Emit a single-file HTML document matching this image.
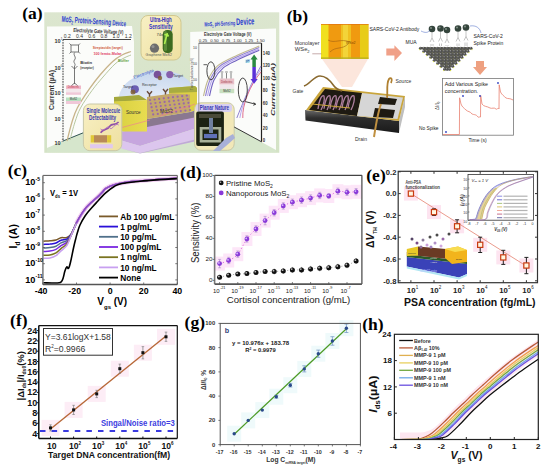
<!DOCTYPE html>
<html><head><meta charset="utf-8"><style>
html,body{margin:0;padding:0;background:#fff;width:550px;height:470px;overflow:hidden;}
svg{display:block;}
</style></head><body>
<svg width="550" height="470" viewBox="0 0 550 470"><rect x="0.0" y="0.0" width="550.0" height="470.0" fill="#ffffff" stroke="none" stroke-width="1" />
<text x="22.3" y="18.5" font-family="Liberation Serif" font-size="17.5" font-weight="bold" fill="#000" text-anchor="start" >(a)</text>
<text x="286.7" y="21.8" font-family="Liberation Serif" font-size="17.5" font-weight="bold" fill="#000" text-anchor="start" >(b)</text>
<text x="7.7" y="175.9" font-family="Liberation Serif" font-size="17.5" font-weight="bold" fill="#000" text-anchor="start" >(c)</text>
<text x="180.1" y="178.0" font-family="Liberation Serif" font-size="17.5" font-weight="bold" fill="#000" text-anchor="start" >(d)</text>
<text x="366.3" y="180.9" font-family="Liberation Serif" font-size="17.5" font-weight="bold" fill="#000" text-anchor="start" >(e)</text>
<text x="10.1" y="325.8" font-family="Liberation Serif" font-size="17.5" font-weight="bold" fill="#000" text-anchor="start" >(f)</text>
<text x="184.6" y="327.8" font-family="Liberation Serif" font-size="17.5" font-weight="bold" fill="#000" text-anchor="start" >(g)</text>
<text x="362.3" y="330.0" font-family="Liberation Serif" font-size="17.5" font-weight="bold" fill="#000" text-anchor="start" >(h)</text>
<path d="M43.3,241.2 C44.4,241.1 47.9,241.0 50.0,240.8 C52.1,240.6 54.2,240.5 56.0,240.0 C57.8,239.5 59.2,238.1 61.0,237.7 C62.8,237.3 65.1,238.1 66.8,237.5 C68.5,236.9 69.5,236.6 71.1,234.2 C72.7,231.8 74.5,226.6 76.2,223.3 C77.9,220.0 79.6,217.1 81.3,214.4 C83.0,211.7 84.7,209.3 86.4,207.3 C88.1,205.3 89.8,203.8 91.5,202.2 C93.2,200.6 94.8,199.6 96.7,197.8 C98.6,196.0 101.5,193.0 103.0,191.4 C104.5,189.8 104.1,189.4 106.0,188.3 C107.9,187.2 110.7,185.7 114.6,184.6 C118.5,183.5 125.3,182.4 129.5,181.8 C133.7,181.2 134.9,181.3 140.0,180.9 C145.1,180.5 153.8,179.8 160.0,179.3 C166.2,178.9 174.2,178.4 177.0,178.2" stroke="#7a5a2a" fill="none" stroke-width="1.5" />
<path d="M43.3,244.5 C44.4,244.4 47.9,244.3 50.0,244.1 C52.1,243.8 54.2,243.7 56.0,243.0 C57.8,242.3 59.2,240.8 61.0,240.2 C62.8,239.5 65.1,240.0 66.8,239.1 C68.5,238.2 69.5,237.1 71.1,234.5 C72.7,231.9 74.5,226.7 76.2,223.4 C77.9,220.1 79.6,217.2 81.3,214.6 C83.0,211.9 84.7,209.5 86.4,207.4 C88.1,205.4 89.8,203.8 91.5,202.2 C93.2,200.6 94.8,199.6 96.7,197.8 C98.6,196.0 101.5,193.0 103.0,191.4 C104.5,189.8 104.1,189.4 106.0,188.3 C107.9,187.2 110.7,185.7 114.6,184.6 C118.5,183.5 125.3,182.4 129.5,181.8 C133.7,181.2 134.9,181.3 140.0,180.9 C145.1,180.5 153.8,179.8 160.0,179.3 C166.2,178.9 174.2,178.4 177.0,178.2" stroke="#2a10d8" fill="none" stroke-width="1.5" />
<path d="M43.3,248.0 C44.4,247.9 47.9,247.9 50.0,247.6 C52.1,247.3 54.2,247.0 56.0,246.2 C57.8,245.4 59.2,243.8 61.0,242.9 C62.8,242.0 65.1,242.0 66.8,240.7 C68.5,239.3 69.5,237.7 71.1,234.8 C72.7,231.9 74.5,226.8 76.2,223.5 C77.9,220.2 79.6,217.4 81.3,214.7 C83.0,212.1 84.7,209.6 86.4,207.5 C88.1,205.5 89.8,203.8 91.5,202.2 C93.2,200.6 94.8,199.6 96.7,197.8 C98.6,196.0 101.5,193.0 103.0,191.4 C104.5,189.8 104.1,189.4 106.0,188.3 C107.9,187.2 110.7,185.7 114.6,184.6 C118.5,183.5 125.3,182.4 129.5,181.8 C133.7,181.2 134.9,181.3 140.0,180.9 C145.1,180.5 153.8,179.8 160.0,179.3 C166.2,178.9 174.2,178.4 177.0,178.2" stroke="#50708a" fill="none" stroke-width="1.5" />
<path d="M43.3,251.5 C44.4,251.4 47.9,251.4 50.0,251.1 C52.1,250.8 54.2,250.3 56.0,249.4 C57.8,248.5 59.2,246.8 61.0,245.6 C62.8,244.4 65.1,244.1 66.8,242.3 C68.5,240.6 69.5,238.2 71.1,235.1 C72.7,232.0 74.5,227.0 76.2,223.6 C77.9,220.2 79.6,217.5 81.3,214.9 C83.0,212.2 84.7,209.8 86.4,207.7 C88.1,205.5 89.8,203.8 91.5,202.2 C93.2,200.6 94.8,199.6 96.7,197.8 C98.6,196.0 101.5,193.0 103.0,191.4 C104.5,189.8 104.1,189.4 106.0,188.3 C107.9,187.2 110.7,185.7 114.6,184.6 C118.5,183.5 125.3,182.4 129.5,181.8 C133.7,181.2 134.9,181.3 140.0,180.9 C145.1,180.5 153.8,179.8 160.0,179.3 C166.2,178.9 174.2,178.4 177.0,178.2" stroke="#7a28e0" fill="none" stroke-width="1.5" />
<path d="M43.3,255.3 C44.4,255.2 47.9,255.3 50.0,254.9 C52.1,254.5 54.2,254.0 56.0,252.9 C57.8,251.9 59.2,250.1 61.0,248.6 C62.8,247.1 65.1,246.1 66.8,243.9 C68.5,241.7 69.5,238.8 71.1,235.4 C72.7,232.0 74.5,227.1 76.2,223.7 C77.9,220.3 79.6,217.7 81.3,215.0 C83.0,212.4 84.7,209.9 86.4,207.8 C88.1,205.6 89.8,203.9 91.5,202.2 C93.2,200.5 94.8,199.6 96.7,197.8 C98.6,196.0 101.5,193.0 103.0,191.4 C104.5,189.8 104.1,189.4 106.0,188.3 C107.9,187.2 110.7,185.7 114.6,184.6 C118.5,183.5 125.3,182.4 129.5,181.8 C133.7,181.2 134.9,181.3 140.0,180.9 C145.1,180.5 153.8,179.8 160.0,179.3 C166.2,178.9 174.2,178.4 177.0,178.2" stroke="#7a7420" fill="none" stroke-width="1.5" />
<path d="M43.3,258.4 C44.4,258.3 47.9,258.4 50.0,258.0 C52.1,257.6 54.2,256.9 56.0,255.7 C57.8,254.5 59.2,252.6 61.0,250.9 C62.8,249.2 65.1,248.0 66.8,245.5 C68.5,243.0 69.5,239.3 71.1,235.7 C72.7,232.1 74.5,227.2 76.2,223.8 C77.9,220.4 79.6,217.9 81.3,215.2 C83.0,212.6 84.7,210.1 86.4,207.9 C88.1,205.7 89.8,203.9 91.5,202.2 C93.2,200.5 94.8,199.6 96.7,197.8 C98.6,196.0 101.5,193.0 103.0,191.4 C104.5,189.8 104.1,189.4 106.0,188.3 C107.9,187.2 110.7,185.7 114.6,184.6 C118.5,183.5 125.3,182.4 129.5,181.8 C133.7,181.2 134.9,181.3 140.0,180.9 C145.1,180.5 153.8,179.8 160.0,179.3 C166.2,178.9 174.2,178.4 177.0,178.2" stroke="#c8a0f0" fill="none" stroke-width="1.5" />
<path d="M76.2,223.3 C77.0,221.8 79.6,217.1 81.3,214.4 C83.0,211.7 84.7,209.3 86.4,207.3 C88.1,205.3 89.8,203.8 91.5,202.2 C93.2,200.6 94.8,199.6 96.7,197.8 C98.6,196.0 101.5,193.0 103.0,191.4 C104.5,189.8 104.1,189.4 106.0,188.3 C107.9,187.2 110.7,185.7 114.6,184.6 C118.5,183.5 125.3,182.4 129.5,181.8 C133.7,181.2 134.9,181.3 140.0,180.9 C145.1,180.5 153.8,179.8 160.0,179.3 C166.2,178.9 174.2,178.4 177.0,178.2" stroke="#e8a0e8" fill="none" stroke-width="4.2" opacity="0.5"/>
<path d="M76.2,223.3 C77.0,221.8 79.6,217.1 81.3,214.4 C83.0,211.7 84.7,209.3 86.4,207.3 C88.1,205.3 89.8,203.8 91.5,202.2 C93.2,200.6 94.8,199.6 96.7,197.8 C98.6,196.0 101.5,193.0 103.0,191.4 C104.5,189.8 104.1,189.4 106.0,188.3 C107.9,187.2 110.7,185.7 114.6,184.6 C118.5,183.5 125.3,182.4 129.5,181.8 C133.7,181.2 134.9,181.3 140.0,180.9 C145.1,180.5 153.8,179.8 160.0,179.3 C166.2,178.9 174.2,178.4 177.0,178.2" stroke="#8848c8" fill="none" stroke-width="1.5" />
<path d="M43.3,282.8 C44.8,282.8 49.4,283.0 52.0,283.0 C54.6,283.0 57.6,283.1 59.2,282.8 C60.8,282.6 60.9,282.2 61.5,281.5 C62.1,280.8 62.4,280.2 63.0,278.5 C63.6,276.8 64.3,272.9 64.9,271.0 C65.5,269.1 66.2,267.4 66.8,267.0 C67.4,266.6 67.8,268.7 68.3,268.5 C68.8,268.3 69.1,267.2 69.5,266.0 C69.9,264.8 70.0,264.3 70.7,261.3 C71.4,258.3 72.7,251.6 73.5,248.0 C74.3,244.4 74.7,242.6 75.4,240.0 C76.1,237.4 76.7,234.8 77.5,232.3 C78.3,229.8 78.7,227.8 80.0,225.0 C81.3,222.2 83.3,218.5 85.2,215.7 C87.1,212.9 89.4,210.4 91.5,208.0 C93.6,205.6 95.5,203.6 97.9,201.0 C100.3,198.4 103.2,195.2 106.0,192.7 C108.8,190.2 111.9,187.7 114.6,186.2 C117.3,184.7 117.8,184.3 122.0,183.5 C126.2,182.7 133.7,182.0 140.0,181.3 C146.3,180.7 153.8,180.1 160.0,179.6 C166.2,179.1 174.2,178.8 177.0,178.6" stroke="#000" fill="none" stroke-width="1.6" />
<line x1="42.9" y1="175.4" x2="177.3" y2="175.4" stroke="#555" stroke-width="1" />
<line x1="177.3" y1="175.4" x2="177.3" y2="284.5" stroke="#555" stroke-width="1" />
<line x1="42.9" y1="175.4" x2="42.9" y2="284.5" stroke="#777" stroke-width="1.5" />
<line x1="42.9" y1="284.5" x2="177.3" y2="284.5" stroke="#555" stroke-width="1.3" />
<line x1="42.9" y1="279.9" x2="44.9" y2="279.9" stroke="#555" stroke-width="0.8" />
<line x1="177.3" y1="279.9" x2="175.3" y2="279.9" stroke="#555" stroke-width="0.8" />
<text x="35.4" y="282.5" font-family="Liberation Sans" font-size="9.2" font-weight="bold" fill="#000" text-anchor="end" >10</text>
<text x="35.6" y="278.1" font-family="Liberation Sans" font-size="5" font-weight="bold" fill="#000" text-anchor="start" >-11</text>
<line x1="42.9" y1="263.7" x2="44.9" y2="263.7" stroke="#555" stroke-width="0.8" />
<line x1="177.3" y1="263.7" x2="175.3" y2="263.7" stroke="#555" stroke-width="0.8" />
<text x="35.4" y="266.3" font-family="Liberation Sans" font-size="9.2" font-weight="bold" fill="#000" text-anchor="end" >10</text>
<text x="35.6" y="261.9" font-family="Liberation Sans" font-size="5" font-weight="bold" fill="#000" text-anchor="start" >-10</text>
<line x1="42.9" y1="247.5" x2="44.9" y2="247.5" stroke="#555" stroke-width="0.8" />
<line x1="177.3" y1="247.5" x2="175.3" y2="247.5" stroke="#555" stroke-width="0.8" />
<text x="35.4" y="250.1" font-family="Liberation Sans" font-size="9.2" font-weight="bold" fill="#000" text-anchor="end" >10</text>
<text x="35.6" y="245.7" font-family="Liberation Sans" font-size="5" font-weight="bold" fill="#000" text-anchor="start" >-9</text>
<line x1="42.9" y1="231.3" x2="44.9" y2="231.3" stroke="#555" stroke-width="0.8" />
<line x1="177.3" y1="231.3" x2="175.3" y2="231.3" stroke="#555" stroke-width="0.8" />
<text x="35.4" y="233.9" font-family="Liberation Sans" font-size="9.2" font-weight="bold" fill="#000" text-anchor="end" >10</text>
<text x="35.6" y="229.5" font-family="Liberation Sans" font-size="5" font-weight="bold" fill="#000" text-anchor="start" >-8</text>
<line x1="42.9" y1="215.1" x2="44.9" y2="215.1" stroke="#555" stroke-width="0.8" />
<line x1="177.3" y1="215.1" x2="175.3" y2="215.1" stroke="#555" stroke-width="0.8" />
<text x="35.4" y="217.7" font-family="Liberation Sans" font-size="9.2" font-weight="bold" fill="#000" text-anchor="end" >10</text>
<text x="35.6" y="213.3" font-family="Liberation Sans" font-size="5" font-weight="bold" fill="#000" text-anchor="start" >-7</text>
<line x1="42.9" y1="198.9" x2="44.9" y2="198.9" stroke="#555" stroke-width="0.8" />
<line x1="177.3" y1="198.9" x2="175.3" y2="198.9" stroke="#555" stroke-width="0.8" />
<text x="35.4" y="201.5" font-family="Liberation Sans" font-size="9.2" font-weight="bold" fill="#000" text-anchor="end" >10</text>
<text x="35.6" y="197.1" font-family="Liberation Sans" font-size="5" font-weight="bold" fill="#000" text-anchor="start" >-6</text>
<line x1="42.9" y1="182.7" x2="44.9" y2="182.7" stroke="#555" stroke-width="0.8" />
<line x1="177.3" y1="182.7" x2="175.3" y2="182.7" stroke="#555" stroke-width="0.8" />
<text x="35.4" y="185.3" font-family="Liberation Sans" font-size="9.2" font-weight="bold" fill="#000" text-anchor="end" >10</text>
<text x="35.6" y="180.9" font-family="Liberation Sans" font-size="5" font-weight="bold" fill="#000" text-anchor="start" >-5</text>
<line x1="42.9" y1="284.5" x2="42.9" y2="282.5" stroke="#555" stroke-width="0.8" />
<text x="41.1" y="294.2" font-family="Liberation Sans" font-size="8.8" font-weight="bold" fill="#000" text-anchor="middle" >-40</text>
<line x1="76.5" y1="284.5" x2="76.5" y2="282.5" stroke="#555" stroke-width="0.8" />
<text x="74.7" y="294.2" font-family="Liberation Sans" font-size="8.8" font-weight="bold" fill="#000" text-anchor="middle" >-20</text>
<line x1="110.1" y1="284.5" x2="110.1" y2="282.5" stroke="#555" stroke-width="0.8" />
<text x="110.1" y="294.2" font-family="Liberation Sans" font-size="8.8" font-weight="bold" fill="#000" text-anchor="middle" >0</text>
<line x1="143.7" y1="284.5" x2="143.7" y2="282.5" stroke="#555" stroke-width="0.8" />
<text x="143.7" y="294.2" font-family="Liberation Sans" font-size="8.8" font-weight="bold" fill="#000" text-anchor="middle" >20</text>
<line x1="177.3" y1="284.5" x2="177.3" y2="282.5" stroke="#555" stroke-width="0.8" />
<text x="177.3" y="294.2" font-family="Liberation Sans" font-size="8.8" font-weight="bold" fill="#000" text-anchor="middle" >40</text>
<text x="50.0" y="196.0" font-family="Liberation Sans" font-size="9" font-weight="bold" fill="#000" text-anchor="start"  textLength="28" lengthAdjust="spacingAndGlyphs">V<tspan font-size="5" dy="2">ds</tspan><tspan dy="-2"> = 1V</tspan></text>
<g transform="translate(16.8,248.5) rotate(-90)"><text x="0" y="0" font-family="Liberation Sans" font-size="10.5" font-weight="bold">I<tspan font-size="6.5" dy="3">d</tspan><tspan dy="-3"> (A)</tspan></text></g>
<text x="97.3" y="304.5" font-family="Liberation Sans" font-size="10" font-weight="bold" fill="#000" text-anchor="start" >V<tspan font-size="6" dy="4">gs</tspan><tspan dy="-4"> (V)</tspan></text>
<line x1="99.0" y1="216.4" x2="118.0" y2="216.4" stroke="#7a5a2a" stroke-width="1.8" />
<text x="120.2" y="219.5" font-family="Liberation Sans" font-size="8.3" font-weight="bold" fill="#000" text-anchor="start" >Ab 100 µg/mL</text>
<line x1="99.0" y1="226.6" x2="118.0" y2="226.6" stroke="#2a10d8" stroke-width="1.8" />
<text x="120.2" y="229.7" font-family="Liberation Sans" font-size="8.3" font-weight="bold" fill="#000" text-anchor="start" >1 pg/mL</text>
<line x1="99.0" y1="236.8" x2="118.0" y2="236.8" stroke="#50708a" stroke-width="1.8" />
<text x="120.2" y="239.9" font-family="Liberation Sans" font-size="8.3" font-weight="bold" fill="#000" text-anchor="start" >10 pg/mL</text>
<line x1="99.0" y1="247.0" x2="118.0" y2="247.0" stroke="#7a28e0" stroke-width="1.8" />
<text x="120.2" y="250.1" font-family="Liberation Sans" font-size="8.3" font-weight="bold" fill="#000" text-anchor="start" >100 pg/mL</text>
<line x1="99.0" y1="257.2" x2="118.0" y2="257.2" stroke="#7a7420" stroke-width="1.8" />
<text x="120.2" y="260.3" font-family="Liberation Sans" font-size="8.3" font-weight="bold" fill="#000" text-anchor="start" >1 ng/mL</text>
<line x1="99.0" y1="267.4" x2="118.0" y2="267.4" stroke="#c8a0f0" stroke-width="1.8" />
<text x="120.2" y="270.5" font-family="Liberation Sans" font-size="8.3" font-weight="bold" fill="#000" text-anchor="start" >10 ng/mL</text>
<line x1="99.0" y1="277.6" x2="118.0" y2="277.6" stroke="#000" stroke-width="1.8" />
<text x="120.2" y="280.7" font-family="Liberation Sans" font-size="8.3" font-weight="bold" fill="#000" text-anchor="start" >None</text>
<rect x="214.1" y="256.6" width="11.0" height="14.0" fill="#fde6f8" stroke="none" stroke-width="1" />
<rect x="223.2" y="253.5" width="11.0" height="14.0" fill="#fde6f8" stroke="none" stroke-width="1" />
<rect x="232.3" y="247.2" width="11.0" height="14.0" fill="#fde6f8" stroke="none" stroke-width="1" />
<rect x="241.4" y="232.0" width="11.0" height="14.0" fill="#fde6f8" stroke="none" stroke-width="1" />
<rect x="250.5" y="222.0" width="11.0" height="14.0" fill="#fde6f8" stroke="none" stroke-width="1" />
<rect x="259.6" y="213.6" width="11.0" height="14.0" fill="#fde6f8" stroke="none" stroke-width="1" />
<rect x="268.7" y="205.7" width="11.0" height="14.0" fill="#fde6f8" stroke="none" stroke-width="1" />
<rect x="277.8" y="198.9" width="11.0" height="14.0" fill="#fde6f8" stroke="none" stroke-width="1" />
<rect x="286.9" y="195.2" width="11.0" height="14.0" fill="#fde6f8" stroke="none" stroke-width="1" />
<rect x="296.0" y="193.2" width="11.0" height="14.0" fill="#fde6f8" stroke="none" stroke-width="1" />
<rect x="305.1" y="191.1" width="11.0" height="14.0" fill="#fde6f8" stroke="none" stroke-width="1" />
<rect x="314.2" y="188.4" width="11.0" height="14.0" fill="#fde6f8" stroke="none" stroke-width="1" />
<rect x="323.3" y="189.0" width="11.0" height="14.0" fill="#fde6f8" stroke="none" stroke-width="1" />
<rect x="332.4" y="184.2" width="11.0" height="14.0" fill="#fde6f8" stroke="none" stroke-width="1" />
<rect x="341.5" y="185.3" width="11.0" height="14.0" fill="#fde6f8" stroke="none" stroke-width="1" />
<rect x="350.6" y="184.8" width="11.0" height="14.0" fill="#fde6f8" stroke="none" stroke-width="1" />
<path d="M219.6,263.6 C221.1,263.1 225.7,262.0 228.7,260.5 C231.7,258.9 234.8,257.8 237.8,254.2 C240.8,250.6 243.9,243.2 246.9,239.0 C249.9,234.8 253.0,232.1 256.0,229.0 C259.0,225.9 262.1,223.3 265.1,220.6 C268.1,217.9 271.2,215.2 274.2,212.7 C277.2,210.3 280.3,207.7 283.3,205.9 C286.3,204.2 289.4,203.2 292.4,202.2 C295.4,201.3 298.5,200.9 301.5,200.2 C304.5,199.5 307.6,198.8 310.6,198.1 C313.6,197.3 316.7,195.8 319.7,195.4 C322.7,195.1 325.8,196.7 328.8,196.0 C331.8,195.3 334.9,191.8 337.9,191.2 C340.9,190.6 344.0,192.2 347.0,192.3 C350.0,192.4 354.6,191.8 356.1,191.8" stroke="#e070e0" fill="none" stroke-width="1" stroke-dasharray="1.2,2.2"/>
<path d="M219.6,277.3 C221.1,276.9 225.7,275.7 228.7,275.2 C231.7,274.6 234.8,274.4 237.8,274.1 C240.8,273.8 243.9,273.8 246.9,273.6 C249.9,273.3 253.0,272.9 256.0,272.5 C259.0,272.2 262.1,271.7 265.1,271.5 C268.1,271.3 271.2,271.6 274.2,271.5 C277.2,271.4 280.3,271.2 283.3,271.0 C286.3,270.7 289.4,270.1 292.4,269.9 C295.4,269.7 298.5,270.1 301.5,269.9 C304.5,269.7 307.6,269.1 310.6,268.9 C313.6,268.6 316.7,268.5 319.7,268.3 C322.7,268.2 325.8,268.1 328.8,267.8 C331.8,267.5 334.9,267.2 337.9,266.8 C340.9,266.3 344.0,266.2 347.0,265.2 C350.0,264.2 354.6,261.7 356.1,261.0" stroke="#999" fill="none" stroke-width="0.8" stroke-dasharray="1.2,2.2"/>
<line x1="219.6" y1="259.4" x2="219.6" y2="267.8" stroke="#a888c8" stroke-width="0.7" />
<line x1="218.1" y1="259.4" x2="221.1" y2="259.4" stroke="#a888c8" stroke-width="0.6" />
<line x1="218.1" y1="267.8" x2="221.1" y2="267.8" stroke="#a888c8" stroke-width="0.6" />
<circle cx="219.6" cy="263.6" r="2.4" fill="#8a3ad8"/>
<circle cx="218.9" cy="262.9" r="0.9" fill="#d8b8ff"/>
<line x1="228.7" y1="257.3" x2="228.7" y2="263.6" stroke="#a888c8" stroke-width="0.7" />
<line x1="227.2" y1="257.3" x2="230.2" y2="257.3" stroke="#a888c8" stroke-width="0.6" />
<line x1="227.2" y1="263.6" x2="230.2" y2="263.6" stroke="#a888c8" stroke-width="0.6" />
<circle cx="228.7" cy="260.5" r="2.4" fill="#8a3ad8"/>
<circle cx="228.0" cy="259.8" r="0.9" fill="#d8b8ff"/>
<line x1="237.8" y1="251.0" x2="237.8" y2="257.3" stroke="#a888c8" stroke-width="0.7" />
<line x1="236.3" y1="251.0" x2="239.3" y2="251.0" stroke="#a888c8" stroke-width="0.6" />
<line x1="236.3" y1="257.3" x2="239.3" y2="257.3" stroke="#a888c8" stroke-width="0.6" />
<circle cx="237.8" cy="254.2" r="2.4" fill="#8a3ad8"/>
<circle cx="237.1" cy="253.5" r="0.9" fill="#d8b8ff"/>
<line x1="246.9" y1="235.8" x2="246.9" y2="242.1" stroke="#a888c8" stroke-width="0.7" />
<line x1="245.4" y1="235.8" x2="248.4" y2="235.8" stroke="#a888c8" stroke-width="0.6" />
<line x1="245.4" y1="242.1" x2="248.4" y2="242.1" stroke="#a888c8" stroke-width="0.6" />
<circle cx="246.9" cy="239.0" r="2.4" fill="#8a3ad8"/>
<circle cx="246.2" cy="238.3" r="0.9" fill="#d8b8ff"/>
<line x1="256.0" y1="225.8" x2="256.0" y2="232.1" stroke="#a888c8" stroke-width="0.7" />
<line x1="254.5" y1="225.8" x2="257.5" y2="225.8" stroke="#a888c8" stroke-width="0.6" />
<line x1="254.5" y1="232.1" x2="257.5" y2="232.1" stroke="#a888c8" stroke-width="0.6" />
<circle cx="256.0" cy="229.0" r="2.4" fill="#8a3ad8"/>
<circle cx="255.3" cy="228.3" r="0.9" fill="#d8b8ff"/>
<line x1="265.1" y1="216.4" x2="265.1" y2="224.8" stroke="#a888c8" stroke-width="0.7" />
<line x1="263.6" y1="216.4" x2="266.6" y2="216.4" stroke="#a888c8" stroke-width="0.6" />
<line x1="263.6" y1="224.8" x2="266.6" y2="224.8" stroke="#a888c8" stroke-width="0.6" />
<circle cx="265.1" cy="220.6" r="2.4" fill="#8a3ad8"/>
<circle cx="264.4" cy="219.9" r="0.9" fill="#d8b8ff"/>
<line x1="274.2" y1="209.6" x2="274.2" y2="215.9" stroke="#a888c8" stroke-width="0.7" />
<line x1="272.7" y1="209.6" x2="275.7" y2="209.6" stroke="#a888c8" stroke-width="0.6" />
<line x1="272.7" y1="215.9" x2="275.7" y2="215.9" stroke="#a888c8" stroke-width="0.6" />
<circle cx="274.2" cy="212.7" r="2.4" fill="#8a3ad8"/>
<circle cx="273.5" cy="212.0" r="0.9" fill="#d8b8ff"/>
<line x1="283.3" y1="202.8" x2="283.3" y2="209.1" stroke="#a888c8" stroke-width="0.7" />
<line x1="281.8" y1="202.8" x2="284.8" y2="202.8" stroke="#a888c8" stroke-width="0.6" />
<line x1="281.8" y1="209.1" x2="284.8" y2="209.1" stroke="#a888c8" stroke-width="0.6" />
<circle cx="283.3" cy="205.9" r="2.4" fill="#8a3ad8"/>
<circle cx="282.6" cy="205.2" r="0.9" fill="#d8b8ff"/>
<line x1="292.4" y1="199.1" x2="292.4" y2="205.4" stroke="#a888c8" stroke-width="0.7" />
<line x1="290.9" y1="199.1" x2="293.9" y2="199.1" stroke="#a888c8" stroke-width="0.6" />
<line x1="290.9" y1="205.4" x2="293.9" y2="205.4" stroke="#a888c8" stroke-width="0.6" />
<circle cx="292.4" cy="202.2" r="2.4" fill="#8a3ad8"/>
<circle cx="291.7" cy="201.5" r="0.9" fill="#d8b8ff"/>
<line x1="301.5" y1="197.0" x2="301.5" y2="203.3" stroke="#a888c8" stroke-width="0.7" />
<line x1="300.0" y1="197.0" x2="303.0" y2="197.0" stroke="#a888c8" stroke-width="0.6" />
<line x1="300.0" y1="203.3" x2="303.0" y2="203.3" stroke="#a888c8" stroke-width="0.6" />
<circle cx="301.5" cy="200.2" r="2.4" fill="#8a3ad8"/>
<circle cx="300.8" cy="199.5" r="0.9" fill="#d8b8ff"/>
<line x1="310.6" y1="194.9" x2="310.6" y2="201.2" stroke="#a888c8" stroke-width="0.7" />
<line x1="309.1" y1="194.9" x2="312.1" y2="194.9" stroke="#a888c8" stroke-width="0.6" />
<line x1="309.1" y1="201.2" x2="312.1" y2="201.2" stroke="#a888c8" stroke-width="0.6" />
<circle cx="310.6" cy="198.1" r="2.4" fill="#8a3ad8"/>
<circle cx="309.9" cy="197.4" r="0.9" fill="#d8b8ff"/>
<line x1="319.7" y1="192.3" x2="319.7" y2="198.6" stroke="#a888c8" stroke-width="0.7" />
<line x1="318.2" y1="192.3" x2="321.2" y2="192.3" stroke="#a888c8" stroke-width="0.6" />
<line x1="318.2" y1="198.6" x2="321.2" y2="198.6" stroke="#a888c8" stroke-width="0.6" />
<circle cx="319.7" cy="195.4" r="2.4" fill="#8a3ad8"/>
<circle cx="319.0" cy="194.7" r="0.9" fill="#d8b8ff"/>
<line x1="328.8" y1="193.9" x2="328.8" y2="198.1" stroke="#a888c8" stroke-width="0.7" />
<line x1="327.3" y1="193.9" x2="330.3" y2="193.9" stroke="#a888c8" stroke-width="0.6" />
<line x1="327.3" y1="198.1" x2="330.3" y2="198.1" stroke="#a888c8" stroke-width="0.6" />
<circle cx="328.8" cy="196.0" r="2.4" fill="#8a3ad8"/>
<circle cx="328.1" cy="195.3" r="0.9" fill="#d8b8ff"/>
<line x1="337.9" y1="188.1" x2="337.9" y2="194.4" stroke="#a888c8" stroke-width="0.7" />
<line x1="336.4" y1="188.1" x2="339.4" y2="188.1" stroke="#a888c8" stroke-width="0.6" />
<line x1="336.4" y1="194.4" x2="339.4" y2="194.4" stroke="#a888c8" stroke-width="0.6" />
<circle cx="337.9" cy="191.2" r="2.4" fill="#8a3ad8"/>
<circle cx="337.2" cy="190.5" r="0.9" fill="#d8b8ff"/>
<line x1="347.0" y1="189.1" x2="347.0" y2="195.4" stroke="#a888c8" stroke-width="0.7" />
<line x1="345.5" y1="189.1" x2="348.5" y2="189.1" stroke="#a888c8" stroke-width="0.6" />
<line x1="345.5" y1="195.4" x2="348.5" y2="195.4" stroke="#a888c8" stroke-width="0.6" />
<circle cx="347.0" cy="192.3" r="2.4" fill="#8a3ad8"/>
<circle cx="346.3" cy="191.6" r="0.9" fill="#d8b8ff"/>
<line x1="356.1" y1="188.6" x2="356.1" y2="194.9" stroke="#a888c8" stroke-width="0.7" />
<line x1="354.6" y1="188.6" x2="357.6" y2="188.6" stroke="#a888c8" stroke-width="0.6" />
<line x1="354.6" y1="194.9" x2="357.6" y2="194.9" stroke="#a888c8" stroke-width="0.6" />
<circle cx="356.1" cy="191.8" r="2.4" fill="#8a3ad8"/>
<circle cx="355.4" cy="191.1" r="0.9" fill="#d8b8ff"/>
<line x1="219.6" y1="275.3" x2="219.6" y2="279.3" stroke="#888" stroke-width="0.7" />
<circle cx="219.6" cy="277.3" r="2.5" fill="#111"/>
<circle cx="218.9" cy="276.5" r="0.9" fill="#bbb"/>
<line x1="228.7" y1="273.2" x2="228.7" y2="277.2" stroke="#888" stroke-width="0.7" />
<circle cx="228.7" cy="275.2" r="2.5" fill="#111"/>
<circle cx="228.0" cy="274.4" r="0.9" fill="#bbb"/>
<line x1="237.8" y1="272.1" x2="237.8" y2="276.1" stroke="#888" stroke-width="0.7" />
<circle cx="237.8" cy="274.1" r="2.5" fill="#111"/>
<circle cx="237.1" cy="273.3" r="0.9" fill="#bbb"/>
<line x1="246.9" y1="271.6" x2="246.9" y2="275.6" stroke="#888" stroke-width="0.7" />
<circle cx="246.9" cy="273.6" r="2.5" fill="#111"/>
<circle cx="246.2" cy="272.8" r="0.9" fill="#bbb"/>
<line x1="256.0" y1="270.5" x2="256.0" y2="274.5" stroke="#888" stroke-width="0.7" />
<circle cx="256.0" cy="272.5" r="2.5" fill="#111"/>
<circle cx="255.3" cy="271.7" r="0.9" fill="#bbb"/>
<line x1="265.1" y1="269.5" x2="265.1" y2="273.5" stroke="#888" stroke-width="0.7" />
<circle cx="265.1" cy="271.5" r="2.5" fill="#111"/>
<circle cx="264.4" cy="270.7" r="0.9" fill="#bbb"/>
<line x1="274.2" y1="268.5" x2="274.2" y2="274.5" stroke="#888" stroke-width="0.7" />
<circle cx="274.2" cy="271.5" r="2.5" fill="#111"/>
<circle cx="273.5" cy="270.7" r="0.9" fill="#bbb"/>
<line x1="283.3" y1="268.0" x2="283.3" y2="274.0" stroke="#888" stroke-width="0.7" />
<circle cx="283.3" cy="271.0" r="2.5" fill="#111"/>
<circle cx="282.6" cy="270.2" r="0.9" fill="#bbb"/>
<line x1="292.4" y1="266.9" x2="292.4" y2="272.9" stroke="#888" stroke-width="0.7" />
<circle cx="292.4" cy="269.9" r="2.5" fill="#111"/>
<circle cx="291.7" cy="269.1" r="0.9" fill="#bbb"/>
<line x1="301.5" y1="266.9" x2="301.5" y2="272.9" stroke="#888" stroke-width="0.7" />
<circle cx="301.5" cy="269.9" r="2.5" fill="#111"/>
<circle cx="300.8" cy="269.1" r="0.9" fill="#bbb"/>
<line x1="310.6" y1="265.9" x2="310.6" y2="271.9" stroke="#888" stroke-width="0.7" />
<circle cx="310.6" cy="268.9" r="2.5" fill="#111"/>
<circle cx="309.9" cy="268.1" r="0.9" fill="#bbb"/>
<line x1="319.7" y1="265.3" x2="319.7" y2="271.3" stroke="#888" stroke-width="0.7" />
<circle cx="319.7" cy="268.3" r="2.5" fill="#111"/>
<circle cx="319.0" cy="267.5" r="0.9" fill="#bbb"/>
<line x1="328.8" y1="264.8" x2="328.8" y2="270.8" stroke="#888" stroke-width="0.7" />
<circle cx="328.8" cy="267.8" r="2.5" fill="#111"/>
<circle cx="328.1" cy="267.0" r="0.9" fill="#bbb"/>
<line x1="337.9" y1="263.8" x2="337.9" y2="269.8" stroke="#888" stroke-width="0.7" />
<circle cx="337.9" cy="266.8" r="2.5" fill="#111"/>
<circle cx="337.2" cy="266.0" r="0.9" fill="#bbb"/>
<line x1="347.0" y1="262.2" x2="347.0" y2="268.2" stroke="#888" stroke-width="0.7" />
<circle cx="347.0" cy="265.2" r="2.5" fill="#111"/>
<circle cx="346.3" cy="264.4" r="0.9" fill="#bbb"/>
<line x1="356.1" y1="258.0" x2="356.1" y2="264.0" stroke="#888" stroke-width="0.7" />
<circle cx="356.1" cy="261.0" r="2.5" fill="#111"/>
<circle cx="355.4" cy="260.2" r="0.9" fill="#bbb"/>
<line x1="214.6" y1="175.3" x2="361.9" y2="175.3" stroke="#444" stroke-width="1.2" />
<line x1="361.9" y1="175.3" x2="361.9" y2="284.1" stroke="#444" stroke-width="1.2" />
<line x1="214.6" y1="175.3" x2="214.6" y2="284.1" stroke="#777" stroke-width="1.6" />
<line x1="214.6" y1="284.1" x2="361.9" y2="284.1" stroke="#555" stroke-width="1.6" />
<line x1="214.6" y1="280.4" x2="212.6" y2="280.4" stroke="#555" stroke-width="0.8" />
<text x="212.5" y="282.0" font-family="Liberation Sans" font-size="6.2" font-weight="normal" fill="#222" text-anchor="end" >0</text>
<line x1="214.6" y1="259.4" x2="212.6" y2="259.4" stroke="#555" stroke-width="0.8" />
<text x="212.5" y="261.0" font-family="Liberation Sans" font-size="6.2" font-weight="normal" fill="#222" text-anchor="end" >20</text>
<line x1="214.6" y1="238.4" x2="212.6" y2="238.4" stroke="#555" stroke-width="0.8" />
<text x="212.5" y="240.0" font-family="Liberation Sans" font-size="6.2" font-weight="normal" fill="#222" text-anchor="end" >40</text>
<line x1="214.6" y1="217.5" x2="212.6" y2="217.5" stroke="#555" stroke-width="0.8" />
<text x="212.5" y="219.1" font-family="Liberation Sans" font-size="6.2" font-weight="normal" fill="#222" text-anchor="end" >60</text>
<line x1="214.6" y1="196.5" x2="212.6" y2="196.5" stroke="#555" stroke-width="0.8" />
<text x="212.5" y="198.1" font-family="Liberation Sans" font-size="6.2" font-weight="normal" fill="#222" text-anchor="end" >80</text>
<line x1="214.6" y1="175.5" x2="212.6" y2="175.5" stroke="#555" stroke-width="0.8" />
<text x="212.5" y="177.1" font-family="Liberation Sans" font-size="6.2" font-weight="normal" fill="#222" text-anchor="end" >100</text>
<line x1="219.6" y1="284.1" x2="219.6" y2="282.1" stroke="#555" stroke-width="0.8" />
<text x="219.7" y="292.9" font-family="Liberation Sans" font-size="6" font-weight="normal" fill="#222" text-anchor="end" >10</text>
<text x="219.9" y="289.4" font-family="Liberation Sans" font-size="3.8" font-weight="normal" fill="#222" text-anchor="start" >-21</text>
<line x1="237.8" y1="284.1" x2="237.8" y2="282.1" stroke="#555" stroke-width="0.8" />
<text x="237.9" y="292.9" font-family="Liberation Sans" font-size="6" font-weight="normal" fill="#222" text-anchor="end" >10</text>
<text x="238.1" y="289.4" font-family="Liberation Sans" font-size="3.8" font-weight="normal" fill="#222" text-anchor="start" >-19</text>
<line x1="256.0" y1="284.1" x2="256.0" y2="282.1" stroke="#555" stroke-width="0.8" />
<text x="256.1" y="292.9" font-family="Liberation Sans" font-size="6" font-weight="normal" fill="#222" text-anchor="end" >10</text>
<text x="256.3" y="289.4" font-family="Liberation Sans" font-size="3.8" font-weight="normal" fill="#222" text-anchor="start" >-17</text>
<line x1="274.2" y1="284.1" x2="274.2" y2="282.1" stroke="#555" stroke-width="0.8" />
<text x="274.3" y="292.9" font-family="Liberation Sans" font-size="6" font-weight="normal" fill="#222" text-anchor="end" >10</text>
<text x="274.5" y="289.4" font-family="Liberation Sans" font-size="3.8" font-weight="normal" fill="#222" text-anchor="start" >-15</text>
<line x1="292.4" y1="284.1" x2="292.4" y2="282.1" stroke="#555" stroke-width="0.8" />
<text x="292.5" y="292.9" font-family="Liberation Sans" font-size="6" font-weight="normal" fill="#222" text-anchor="end" >10</text>
<text x="292.7" y="289.4" font-family="Liberation Sans" font-size="3.8" font-weight="normal" fill="#222" text-anchor="start" >-13</text>
<line x1="310.6" y1="284.1" x2="310.6" y2="282.1" stroke="#555" stroke-width="0.8" />
<text x="310.7" y="292.9" font-family="Liberation Sans" font-size="6" font-weight="normal" fill="#222" text-anchor="end" >10</text>
<text x="310.9" y="289.4" font-family="Liberation Sans" font-size="3.8" font-weight="normal" fill="#222" text-anchor="start" >-11</text>
<line x1="328.8" y1="284.1" x2="328.8" y2="282.1" stroke="#555" stroke-width="0.8" />
<text x="328.9" y="292.9" font-family="Liberation Sans" font-size="6" font-weight="normal" fill="#222" text-anchor="end" >10</text>
<text x="329.1" y="289.4" font-family="Liberation Sans" font-size="3.8" font-weight="normal" fill="#222" text-anchor="start" >-9</text>
<line x1="347.0" y1="284.1" x2="347.0" y2="282.1" stroke="#555" stroke-width="0.8" />
<text x="347.1" y="292.9" font-family="Liberation Sans" font-size="6" font-weight="normal" fill="#222" text-anchor="end" >10</text>
<text x="347.3" y="289.4" font-family="Liberation Sans" font-size="3.8" font-weight="normal" fill="#222" text-anchor="start" >-7</text>
<text x="226.8" y="303.4" font-family="Liberation Sans" font-size="9.7" font-weight="normal" fill="#222" text-anchor="start"  textLength="123.5" lengthAdjust="spacingAndGlyphs">Cortisol concentration (g/mL)</text>
<g transform="translate(198.6,263) rotate(-90)"><text x="0" y="0" font-family="Liberation Sans" font-size="10" fill="#222" textLength="60.4" lengthAdjust="spacingAndGlyphs">Sensitivity (%)</text></g>
<circle cx="221.2" cy="182.9" r="2.4" fill="#111"/><circle cx="220.5" cy="182.2" r="0.8" fill="#bbb"/>
<text x="225.9" y="185.5" font-family="Liberation Sans" font-size="7.8" font-weight="normal" fill="#222" text-anchor="start" >Pristine MoS<tspan font-size="5" dy="2">2</tspan></text>
<circle cx="221.2" cy="192.9" r="2.4" fill="#8a3ad8"/>
<text x="225.9" y="195.6" font-family="Liberation Sans" font-size="7.8" font-weight="normal" fill="#222" text-anchor="start" >Nanoporous MoS<tspan font-size="5" dy="2">2</tspan></text>
<rect x="403.9" y="186.6" width="14.0" height="14.0" fill="#fde4f0" stroke="none" stroke-width="1" />
<rect x="427.0" y="205.1" width="14.0" height="14.0" fill="#fde4f0" stroke="none" stroke-width="1" />
<rect x="450.1" y="219.3" width="14.0" height="14.0" fill="#fde4f0" stroke="none" stroke-width="1" />
<rect x="473.2" y="237.8" width="14.0" height="14.0" fill="#fde4f0" stroke="none" stroke-width="1" />
<rect x="496.3" y="250.4" width="14.0" height="14.0" fill="#fde4f0" stroke="none" stroke-width="1" />
<rect x="519.4" y="258.5" width="14.0" height="14.0" fill="#fde4f0" stroke="none" stroke-width="1" />
<line x1="410.9" y1="193.6" x2="526.4" y2="266.1" stroke="#e89080" stroke-width="0.9" />
<path d="M406.8,257.0 L467.0,264.0 L467.0,274.0 L459.0,277.5 L406.8,266.5" stroke="none" fill="#3a42b8" stroke-width="1" />
<path d="M406.8,266.5 L459.0,277.5 L467.0,274.0 L467.0,276.0 L459.0,279.5 L406.8,268.5" stroke="none" fill="#b0e6f2" stroke-width="1" />
<path d="M406.8,254.5 L467.0,261.0 L467.0,264.0 L406.8,257.0" stroke="none" fill="#2a5a2a" stroke-width="1" />
<path d="M406.8,252.0 L467.0,258.5 L467.0,261.0 L406.8,254.5" stroke="none" fill="#7a3a28" stroke-width="1" />
<path d="M418.0,246.5 L446.0,249.0 L446.0,258.0 L418.0,255.5" stroke="none" fill="#6a3a24" stroke-width="1" />
<path d="M406.8,249.0 L418.0,246.5 L418.0,255.5 L406.8,256.0" stroke="none" fill="#e8c828" stroke-width="1" />
<path d="M445.0,249.0 L458.0,246.5 L467.0,250.0 L467.0,262.0 L452.0,264.0 L445.0,258.0" stroke="none" fill="#f2b41c" stroke-width="1" />
<path d="M445.0,249.0 L458.0,246.5 L467.0,250.0 L455.0,252.0" stroke="none" fill="#f8dc50" stroke-width="1" />
<circle cx="412" cy="239" r="1.5" fill="#554466"/>
<circle cx="417" cy="243" r="1.5" fill="#7a4a8a"/>
<circle cx="423" cy="240" r="1.5" fill="#8a7a9a"/>
<circle cx="430" cy="237" r="1.5" fill="#4a4a4a"/>
<circle cx="437" cy="235" r="1.5" fill="#4a4a4a"/>
<circle cx="443" cy="239" r="1.5" fill="#9a6aaa"/>
<circle cx="449" cy="234" r="1.5" fill="#4a4a4a"/>
<circle cx="427" cy="245" r="1.5" fill="#c8a0d8"/>
<circle cx="435" cy="243" r="1.5" fill="#b090c8"/>
<circle cx="441" cy="246" r="1.5" fill="#d0a8e0"/>
<circle cx="431" cy="247" r="1.5" fill="#a080c0"/>
<circle cx="421" cy="247" r="1.5" fill="#9070a0"/>
<text x="430.0" y="258.5" font-family="Liberation Sans" font-size="2.5" font-weight="normal" fill="#dddddd" text-anchor="start" >MoS2</text>
<text x="430.0" y="263.0" font-family="Liberation Sans" font-size="2.5" font-weight="normal" fill="#dddddd" text-anchor="start" >Al2O3</text>
<text x="420.0" y="272.0" font-family="Liberation Sans" font-size="3" font-weight="normal" fill="#c0c0ff" text-anchor="start" >Si/SiO2 gate</text>
<text x="408.0" y="254.0" font-family="Liberation Sans" font-size="2.5" font-weight="normal" fill="#333" text-anchor="start" >Source</text>
<text x="456.0" y="260.0" font-family="Liberation Sans" font-size="2.5" font-weight="normal" fill="#333" text-anchor="start" >Drain</text>
<rect x="408.3" y="191.0" width="5.2" height="5.2" fill="#fff6e0" stroke="#c83a10" stroke-width="1.2" />
<line x1="434.0" y1="208.9" x2="434.0" y2="215.4" stroke="#222" stroke-width="1" />
<line x1="432.0" y1="208.9" x2="436.0" y2="208.9" stroke="#222" stroke-width="1" />
<line x1="432.0" y1="215.4" x2="436.0" y2="215.4" stroke="#222" stroke-width="1" />
<rect x="431.4" y="209.5" width="5.2" height="5.2" fill="#fff6e0" stroke="#c83a10" stroke-width="1.2" />
<line x1="457.1" y1="219.8" x2="457.1" y2="232.8" stroke="#222" stroke-width="1" />
<line x1="455.1" y1="219.8" x2="459.1" y2="219.8" stroke="#222" stroke-width="1" />
<line x1="455.1" y1="232.8" x2="459.1" y2="232.8" stroke="#222" stroke-width="1" />
<rect x="454.5" y="223.7" width="5.2" height="5.2" fill="#fff6e0" stroke="#c83a10" stroke-width="1.2" />
<line x1="480.2" y1="237.2" x2="480.2" y2="252.5" stroke="#222" stroke-width="1" />
<line x1="478.2" y1="237.2" x2="482.2" y2="237.2" stroke="#222" stroke-width="1" />
<line x1="478.2" y1="252.5" x2="482.2" y2="252.5" stroke="#222" stroke-width="1" />
<rect x="477.6" y="242.2" width="5.2" height="5.2" fill="#fff6e0" stroke="#c83a10" stroke-width="1.2" />
<line x1="503.3" y1="250.3" x2="503.3" y2="264.4" stroke="#222" stroke-width="1" />
<line x1="501.3" y1="250.3" x2="505.3" y2="250.3" stroke="#222" stroke-width="1" />
<line x1="501.3" y1="264.4" x2="505.3" y2="264.4" stroke="#222" stroke-width="1" />
<rect x="500.7" y="254.8" width="5.2" height="5.2" fill="#fff6e0" stroke="#c83a10" stroke-width="1.2" />
<line x1="526.4" y1="257.4" x2="526.4" y2="273.7" stroke="#222" stroke-width="1" />
<line x1="524.4" y1="257.4" x2="528.4" y2="257.4" stroke="#222" stroke-width="1" />
<line x1="524.4" y1="273.7" x2="528.4" y2="273.7" stroke="#222" stroke-width="1" />
<rect x="523.8" y="262.9" width="5.2" height="5.2" fill="#fff6e0" stroke="#c83a10" stroke-width="1.2" />
<rect x="468.0" y="174.4" width="65.5" height="45.8" fill="#fff" stroke="#333" stroke-width="0.8" />
<path d="M476.0,218.0 C476.5,216.6 477.4,212.7 478.9,209.3 C480.3,205.9 482.5,201.0 484.7,197.6 C486.9,194.2 490.8,190.3 492.0,188.9 L497.8,187.5 L491.3,195.5 L484.7,207.8 L481.8,219.3 L476,219.3 Z" stroke="none" fill="#e8d49a" stroke-width="1" />
<path d="M469.5,219.5 C470.2,219.5 472.9,219.6 474.0,219.3 C475.1,219.1 475.2,219.7 476.0,218.0 C476.8,216.3 477.4,212.7 478.9,209.3 C480.3,205.9 482.5,201.0 484.7,197.6 C486.9,194.2 489.3,191.2 492.0,188.9 C494.7,186.6 496.8,185.4 500.7,183.8 C504.6,182.2 510.0,180.7 515.3,179.5 C520.6,178.3 529.8,177.0 532.7,176.5" stroke="#7070d0" fill="none" stroke-width="0.8" />
<path d="M470.3,219.9 C471.1,219.9 473.7,220.0 474.8,219.7 C475.9,219.5 476.0,220.1 476.8,218.4 C477.6,216.7 478.2,213.1 479.7,209.7 C481.1,206.3 483.3,201.4 485.5,198.0 C487.7,194.6 490.1,191.6 492.8,189.3 C495.5,187.0 497.6,185.8 501.5,184.2 C505.4,182.6 510.8,181.1 516.1,179.9 C521.4,178.7 530.6,177.4 533.5,176.9" stroke="#9090e0" fill="none" stroke-width="0.6" />
<path d="M481.8,219.3 C482.3,217.4 483.1,211.8 484.7,207.8 C486.3,203.8 489.1,198.9 491.3,195.5 C493.5,192.1 495.5,189.6 497.8,187.5 C500.1,185.4 502.1,184.3 505.0,183.0 C507.9,181.7 510.7,180.9 515.3,179.8 C519.9,178.7 529.8,177.1 532.7,176.6" stroke="#c0a050" fill="none" stroke-width="0.6" />
<path d="M480.3,219.3 C480.8,217.4 481.6,211.8 483.2,207.8 C484.8,203.8 487.6,198.9 489.8,195.5 C492.0,192.1 495.2,188.8 496.3,187.5" stroke="#a0b060" fill="none" stroke-width="0.5" />
<path d="M469.5,219.5 C472.0,219.5 481.7,220.7 484.7,219.5 C487.7,218.3 486.5,214.9 487.6,212.2 C488.7,209.5 489.6,206.7 491.3,203.5 C493.0,200.3 495.0,196.2 497.8,193.3 C500.6,190.4 504.1,188.1 508.0,186.0 C511.9,183.9 516.9,182.5 521.0,181.0 C525.1,179.5 530.8,177.7 532.7,177.0" stroke="#c080a0" fill="none" stroke-width="0.7" />
<path d="M470.2,219.5 C472.7,219.5 482.4,220.7 485.4,219.5 C488.4,218.3 487.2,214.9 488.3,212.2 C489.4,209.5 490.3,206.7 492.0,203.5 C493.7,200.3 495.7,196.2 498.5,193.3 C501.3,190.4 504.8,188.1 508.7,186.0 C512.6,183.9 517.6,182.5 521.7,181.0 C525.8,179.5 531.5,177.7 533.4,177.0" stroke="#8070b0" fill="none" stroke-width="0.5" />
<line x1="497.0" y1="196.2" x2="502.2" y2="196.2" stroke="#8080e0" stroke-width="0.9" />
<line x1="503.5" y1="196.2" x2="527.5" y2="196.2" stroke="#777" stroke-width="1.2" opacity="0.55"/>
<line x1="497.0" y1="199.8" x2="502.2" y2="199.8" stroke="#6060d0" stroke-width="0.9" />
<line x1="503.5" y1="199.8" x2="527.5" y2="199.8" stroke="#777" stroke-width="1.2" opacity="0.55"/>
<line x1="497.0" y1="203.4" x2="502.2" y2="203.4" stroke="#a0c070" stroke-width="0.9" />
<line x1="503.5" y1="203.4" x2="527.5" y2="203.4" stroke="#777" stroke-width="1.2" opacity="0.55"/>
<line x1="497.0" y1="206.9" x2="502.2" y2="206.9" stroke="#d8c060" stroke-width="0.9" />
<line x1="503.5" y1="206.9" x2="527.5" y2="206.9" stroke="#777" stroke-width="1.2" opacity="0.55"/>
<line x1="497.0" y1="210.5" x2="502.2" y2="210.5" stroke="#f0a090" stroke-width="0.9" />
<line x1="503.5" y1="210.5" x2="527.5" y2="210.5" stroke="#777" stroke-width="1.2" opacity="0.55"/>
<line x1="497.0" y1="214.1" x2="502.2" y2="214.1" stroke="#c06080" stroke-width="0.9" />
<line x1="503.5" y1="214.1" x2="527.5" y2="214.1" stroke="#777" stroke-width="1.2" opacity="0.55"/>
<line x1="497.0" y1="217.7" x2="502.2" y2="217.7" stroke="#6060a0" stroke-width="0.9" />
<line x1="503.5" y1="217.7" x2="527.5" y2="217.7" stroke="#777" stroke-width="1.2" opacity="0.55"/>
<text x="471.6" y="181.5" font-family="Liberation Sans" font-size="4.2" font-weight="normal" fill="#333" text-anchor="start" font-style="italic">V<tspan font-size='2.5'>ds</tspan> = 1 V</text>
<text x="494.2" y="231.3" font-family="Liberation Sans" font-size="5.5" font-weight="bold" fill="#333" text-anchor="start" font-style="italic" textLength="13" lengthAdjust="spacingAndGlyphs">V<tspan font-size='3' dy='1'>GS</tspan><tspan dy='-1'> (V)</tspan></text>
<line x1="468.0" y1="179.2" x2="469.5" y2="179.2" stroke="#333" stroke-width="0.5" />
<text x="467.2" y="181.2" font-family="Liberation Sans" font-size="3.6" font-weight="normal" fill="#333" text-anchor="end" >10</text>
<line x1="468.0" y1="187.9" x2="469.5" y2="187.9" stroke="#333" stroke-width="0.5" />
<text x="467.2" y="189.9" font-family="Liberation Sans" font-size="3.6" font-weight="normal" fill="#333" text-anchor="end" >10</text>
<line x1="468.0" y1="195.9" x2="469.5" y2="195.9" stroke="#333" stroke-width="0.5" />
<text x="467.2" y="197.9" font-family="Liberation Sans" font-size="3.6" font-weight="normal" fill="#333" text-anchor="end" >10</text>
<line x1="468.0" y1="204.0" x2="469.5" y2="204.0" stroke="#333" stroke-width="0.5" />
<text x="467.2" y="206.0" font-family="Liberation Sans" font-size="3.6" font-weight="normal" fill="#333" text-anchor="end" >10</text>
<line x1="468.0" y1="212.0" x2="469.5" y2="212.0" stroke="#333" stroke-width="0.5" />
<text x="467.2" y="214.0" font-family="Liberation Sans" font-size="3.6" font-weight="normal" fill="#333" text-anchor="end" >10</text>
<line x1="468.0" y1="220.5" x2="469.5" y2="220.5" stroke="#333" stroke-width="0.5" />
<text x="467.2" y="222.5" font-family="Liberation Sans" font-size="3.6" font-weight="normal" fill="#333" text-anchor="end" >10</text>
<text x="469.0" y="225.3" font-family="Liberation Sans" font-size="3.6" font-weight="normal" fill="#333" text-anchor="middle" >-8</text>
<text x="476.9" y="225.3" font-family="Liberation Sans" font-size="3.6" font-weight="normal" fill="#333" text-anchor="middle" >-7</text>
<text x="484.9" y="225.3" font-family="Liberation Sans" font-size="3.6" font-weight="normal" fill="#333" text-anchor="middle" >-6</text>
<text x="492.8" y="225.3" font-family="Liberation Sans" font-size="3.6" font-weight="normal" fill="#333" text-anchor="middle" >-5</text>
<text x="500.8" y="225.3" font-family="Liberation Sans" font-size="3.6" font-weight="normal" fill="#333" text-anchor="middle" >-4</text>
<text x="508.7" y="225.3" font-family="Liberation Sans" font-size="3.6" font-weight="normal" fill="#333" text-anchor="middle" >-3</text>
<text x="516.6" y="225.3" font-family="Liberation Sans" font-size="3.6" font-weight="normal" fill="#333" text-anchor="middle" >-2</text>
<text x="524.6" y="225.3" font-family="Liberation Sans" font-size="3.6" font-weight="normal" fill="#333" text-anchor="middle" >-1</text>
<text x="532.5" y="225.3" font-family="Liberation Sans" font-size="3.6" font-weight="normal" fill="#333" text-anchor="middle" >0</text>
<g transform="translate(464,206) rotate(-90)"><text font-family="Liberation Sans" font-size="5" font-weight="bold" font-style="italic" fill="#333">I<tspan font-size="3">d</tspan> (A)</text></g>
<text x="405.5" y="184.3" font-family="Liberation Sans" font-size="4.8" font-weight="bold" fill="#444" text-anchor="start"  textLength="15.5" lengthAdjust="spacingAndGlyphs">Anti-PSA</text>
<text x="405.5" y="189.3" font-family="Liberation Sans" font-size="4.8" font-weight="bold" fill="#444" text-anchor="start"  textLength="34.5" lengthAdjust="spacingAndGlyphs">functionalization</text>
<rect x="398.2" y="171.3" width="139.3" height="111.4" fill="none" stroke="#333" stroke-width="1.2" />
<line x1="398.2" y1="171.8" x2="400.7" y2="171.8" stroke="#333" stroke-width="1" />
<line x1="537.5" y1="171.8" x2="535.0" y2="171.8" stroke="#333" stroke-width="1" />
<text x="396.4" y="174.6" font-family="Liberation Sans" font-size="7.6" font-weight="bold" fill="#222" text-anchor="end" >0.2</text>
<line x1="398.2" y1="193.6" x2="400.7" y2="193.6" stroke="#333" stroke-width="1" />
<line x1="537.5" y1="193.6" x2="535.0" y2="193.6" stroke="#333" stroke-width="1" />
<text x="396.4" y="196.4" font-family="Liberation Sans" font-size="7.6" font-weight="bold" fill="#222" text-anchor="end" >0.0</text>
<line x1="398.2" y1="215.4" x2="400.7" y2="215.4" stroke="#333" stroke-width="1" />
<line x1="537.5" y1="215.4" x2="535.0" y2="215.4" stroke="#333" stroke-width="1" />
<text x="396.4" y="218.2" font-family="Liberation Sans" font-size="7.6" font-weight="bold" fill="#222" text-anchor="end" >-0.2</text>
<line x1="398.2" y1="237.2" x2="400.7" y2="237.2" stroke="#333" stroke-width="1" />
<line x1="537.5" y1="237.2" x2="535.0" y2="237.2" stroke="#333" stroke-width="1" />
<text x="396.4" y="240.0" font-family="Liberation Sans" font-size="7.6" font-weight="bold" fill="#222" text-anchor="end" >-0.4</text>
<line x1="398.2" y1="259.0" x2="400.7" y2="259.0" stroke="#333" stroke-width="1" />
<line x1="537.5" y1="259.0" x2="535.0" y2="259.0" stroke="#333" stroke-width="1" />
<text x="396.4" y="261.8" font-family="Liberation Sans" font-size="7.6" font-weight="bold" fill="#222" text-anchor="end" >-0.6</text>
<line x1="398.2" y1="280.8" x2="400.7" y2="280.8" stroke="#333" stroke-width="1" />
<line x1="537.5" y1="280.8" x2="535.0" y2="280.8" stroke="#333" stroke-width="1" />
<text x="396.4" y="283.6" font-family="Liberation Sans" font-size="7.6" font-weight="bold" fill="#222" text-anchor="end" >-0.8</text>
<line x1="410.9" y1="282.7" x2="410.9" y2="280.2" stroke="#333" stroke-width="1" />
<line x1="410.9" y1="171.3" x2="410.9" y2="173.8" stroke="#333" stroke-width="1" />
<text x="411.2" y="293.0" font-family="Liberation Sans" font-size="7.8" font-weight="bold" fill="#222" text-anchor="middle" >10</text>
<text x="415.7" y="288.8" font-family="Liberation Sans" font-size="4.5" font-weight="normal" fill="#222" text-anchor="start" >1</text>
<line x1="434.0" y1="282.7" x2="434.0" y2="280.2" stroke="#333" stroke-width="1" />
<line x1="434.0" y1="171.3" x2="434.0" y2="173.8" stroke="#333" stroke-width="1" />
<text x="434.3" y="293.0" font-family="Liberation Sans" font-size="7.8" font-weight="bold" fill="#222" text-anchor="middle" >10</text>
<text x="438.8" y="288.8" font-family="Liberation Sans" font-size="4.5" font-weight="normal" fill="#222" text-anchor="start" >2</text>
<line x1="457.1" y1="282.7" x2="457.1" y2="280.2" stroke="#333" stroke-width="1" />
<line x1="457.1" y1="171.3" x2="457.1" y2="173.8" stroke="#333" stroke-width="1" />
<text x="457.4" y="293.0" font-family="Liberation Sans" font-size="7.8" font-weight="bold" fill="#222" text-anchor="middle" >10</text>
<text x="461.9" y="288.8" font-family="Liberation Sans" font-size="4.5" font-weight="normal" fill="#222" text-anchor="start" >3</text>
<line x1="480.2" y1="282.7" x2="480.2" y2="280.2" stroke="#333" stroke-width="1" />
<line x1="480.2" y1="171.3" x2="480.2" y2="173.8" stroke="#333" stroke-width="1" />
<text x="480.5" y="293.0" font-family="Liberation Sans" font-size="7.8" font-weight="bold" fill="#222" text-anchor="middle" >10</text>
<text x="485.0" y="288.8" font-family="Liberation Sans" font-size="4.5" font-weight="normal" fill="#222" text-anchor="start" >4</text>
<line x1="503.3" y1="282.7" x2="503.3" y2="280.2" stroke="#333" stroke-width="1" />
<line x1="503.3" y1="171.3" x2="503.3" y2="173.8" stroke="#333" stroke-width="1" />
<text x="503.6" y="293.0" font-family="Liberation Sans" font-size="7.8" font-weight="bold" fill="#222" text-anchor="middle" >10</text>
<text x="508.1" y="288.8" font-family="Liberation Sans" font-size="4.5" font-weight="normal" fill="#222" text-anchor="start" >5</text>
<line x1="526.4" y1="282.7" x2="526.4" y2="280.2" stroke="#333" stroke-width="1" />
<line x1="526.4" y1="171.3" x2="526.4" y2="173.8" stroke="#333" stroke-width="1" />
<text x="526.7" y="293.0" font-family="Liberation Sans" font-size="7.8" font-weight="bold" fill="#222" text-anchor="middle" >10</text>
<text x="531.2" y="288.8" font-family="Liberation Sans" font-size="4.5" font-weight="normal" fill="#222" text-anchor="start" >6</text>
<text x="404.0" y="305.8" font-family="Liberation Sans" font-size="10.4" font-weight="bold" fill="#111" text-anchor="start"  textLength="131.5" lengthAdjust="spacingAndGlyphs">PSA concentration (fg/mL)</text>
<g transform="translate(374.2,248) rotate(-90)"><text font-family="Liberation Sans" font-size="10.5" font-weight="bold" fill="#111" textLength="37.4" lengthAdjust="spacingAndGlyphs">Δ<tspan font-style="italic">V</tspan><tspan font-size="5" dy="2.5">TH</tspan><tspan dy="-2.5"> (V)</tspan></text></g>
<rect x="41.5" y="419.9" width="18.0" height="16.0" fill="#fdedf6" stroke="none" stroke-width="1" />
<rect x="64.6" y="401.9" width="18.0" height="16.0" fill="#fdedf6" stroke="none" stroke-width="1" />
<rect x="87.7" y="385.9" width="18.0" height="16.0" fill="#fdedf6" stroke="none" stroke-width="1" />
<rect x="110.8" y="360.7" width="18.0" height="16.0" fill="#fdedf6" stroke="none" stroke-width="1" />
<rect x="133.9" y="344.7" width="18.0" height="16.0" fill="#fdedf6" stroke="none" stroke-width="1" />
<rect x="157.0" y="328.8" width="18.0" height="16.0" fill="#fdedf6" stroke="none" stroke-width="1" />
<line x1="50.5" y1="429.0" x2="166.0" y2="336.0" stroke="#b86838" stroke-width="1.4" />
<line x1="50.5" y1="424.8" x2="50.5" y2="431.0" stroke="#777" stroke-width="0.7" />
<line x1="49.2" y1="424.8" x2="51.8" y2="424.8" stroke="#777" stroke-width="0.6" />
<line x1="49.2" y1="431.0" x2="51.8" y2="431.0" stroke="#777" stroke-width="0.6" />
<rect x="49.0" y="426.4" width="3.0" height="3.0" fill="#111" stroke="none" stroke-width="1" />
<line x1="73.6" y1="405.3" x2="73.6" y2="414.5" stroke="#777" stroke-width="0.7" />
<line x1="72.3" y1="405.3" x2="74.9" y2="405.3" stroke="#777" stroke-width="0.6" />
<line x1="72.3" y1="414.5" x2="74.9" y2="414.5" stroke="#777" stroke-width="0.6" />
<rect x="72.1" y="408.4" width="3.0" height="3.0" fill="#111" stroke="none" stroke-width="1" />
<line x1="96.7" y1="390.3" x2="96.7" y2="397.6" stroke="#777" stroke-width="0.7" />
<line x1="95.4" y1="390.3" x2="98.0" y2="390.3" stroke="#777" stroke-width="0.6" />
<line x1="95.4" y1="397.6" x2="98.0" y2="397.6" stroke="#777" stroke-width="0.6" />
<rect x="95.2" y="392.4" width="3.0" height="3.0" fill="#111" stroke="none" stroke-width="1" />
<line x1="119.8" y1="364.1" x2="119.8" y2="373.3" stroke="#777" stroke-width="0.7" />
<line x1="118.5" y1="364.1" x2="121.1" y2="364.1" stroke="#777" stroke-width="0.6" />
<line x1="118.5" y1="373.3" x2="121.1" y2="373.3" stroke="#777" stroke-width="0.6" />
<rect x="118.3" y="367.2" width="3.0" height="3.0" fill="#111" stroke="none" stroke-width="1" />
<line x1="142.9" y1="346.6" x2="142.9" y2="358.9" stroke="#777" stroke-width="0.7" />
<line x1="141.6" y1="346.6" x2="144.2" y2="346.6" stroke="#777" stroke-width="0.6" />
<line x1="141.6" y1="358.9" x2="144.2" y2="358.9" stroke="#777" stroke-width="0.6" />
<rect x="141.4" y="351.2" width="3.0" height="3.0" fill="#111" stroke="none" stroke-width="1" />
<line x1="166.0" y1="332.1" x2="166.0" y2="341.4" stroke="#777" stroke-width="0.7" />
<line x1="164.7" y1="332.1" x2="167.3" y2="332.1" stroke="#777" stroke-width="0.6" />
<line x1="164.7" y1="341.4" x2="167.3" y2="341.4" stroke="#777" stroke-width="0.6" />
<rect x="164.5" y="335.3" width="3.0" height="3.0" fill="#111" stroke="none" stroke-width="1" />
<line x1="40.0" y1="430.9" x2="176.3" y2="430.9" stroke="#3a3ae0" stroke-width="2" stroke-dasharray="5.5,6.1"/>
<text x="100.9" y="426.4" font-family="Liberation Sans" font-size="8.6" font-weight="bold" fill="#4040e0" text-anchor="start"  textLength="74" lengthAdjust="spacingAndGlyphs">Singal/Noise ratio=3</text>
<line x1="38.8" y1="325.6" x2="177.3" y2="325.6" stroke="#111" stroke-width="1.2" />
<line x1="177.3" y1="325.6" x2="177.3" y2="438.5" stroke="#111" stroke-width="1.2" />
<line x1="38.8" y1="325.6" x2="38.8" y2="438.5" stroke="#111" stroke-width="1.5" />
<line x1="38.8" y1="438.5" x2="177.3" y2="438.5" stroke="#111" stroke-width="1.6" />
<rect x="43.5" y="328.5" width="69.0" height="26.7" fill="none" stroke="#333" stroke-width="1" />
<text x="45.0" y="339.7" font-family="Liberation Sans" font-size="8.5" font-weight="normal" fill="#333" text-anchor="start"  textLength="65.7" lengthAdjust="spacingAndGlyphs">Y=3.61logX+1.58</text>
<text x="45.0" y="351.8" font-family="Liberation Sans" font-size="8.5" font-weight="normal" fill="#333" text-anchor="start"  textLength="40.3" lengthAdjust="spacingAndGlyphs">R<tspan font-size="4.5" dy="-3.5">2</tspan><tspan dy="3.5">=0.9966</tspan></text>
<line x1="38.8" y1="433.6" x2="36.8" y2="433.6" stroke="#111" stroke-width="1" />
<text x="37.2" y="436.6" font-family="Liberation Sans" font-size="9" font-weight="bold" fill="#111" text-anchor="end" >4</text>
<line x1="38.8" y1="423.3" x2="36.8" y2="423.3" stroke="#111" stroke-width="1" />
<text x="37.2" y="426.3" font-family="Liberation Sans" font-size="9" font-weight="bold" fill="#111" text-anchor="end" >6</text>
<line x1="38.8" y1="413.0" x2="36.8" y2="413.0" stroke="#111" stroke-width="1" />
<text x="37.2" y="416.0" font-family="Liberation Sans" font-size="9" font-weight="bold" fill="#111" text-anchor="end" >8</text>
<line x1="38.8" y1="402.7" x2="36.8" y2="402.7" stroke="#111" stroke-width="1" />
<text x="37.2" y="405.7" font-family="Liberation Sans" font-size="9" font-weight="bold" fill="#111" text-anchor="end" >10</text>
<line x1="38.8" y1="392.4" x2="36.8" y2="392.4" stroke="#111" stroke-width="1" />
<text x="37.2" y="395.4" font-family="Liberation Sans" font-size="9" font-weight="bold" fill="#111" text-anchor="end" >12</text>
<line x1="38.8" y1="382.1" x2="36.8" y2="382.1" stroke="#111" stroke-width="1" />
<text x="37.2" y="385.1" font-family="Liberation Sans" font-size="9" font-weight="bold" fill="#111" text-anchor="end" >14</text>
<line x1="38.8" y1="371.8" x2="36.8" y2="371.8" stroke="#111" stroke-width="1" />
<text x="37.2" y="374.8" font-family="Liberation Sans" font-size="9" font-weight="bold" fill="#111" text-anchor="end" >16</text>
<line x1="38.8" y1="361.5" x2="36.8" y2="361.5" stroke="#111" stroke-width="1" />
<text x="37.2" y="364.5" font-family="Liberation Sans" font-size="9" font-weight="bold" fill="#111" text-anchor="end" >18</text>
<line x1="38.8" y1="351.2" x2="36.8" y2="351.2" stroke="#111" stroke-width="1" />
<text x="37.2" y="354.2" font-family="Liberation Sans" font-size="9" font-weight="bold" fill="#111" text-anchor="end" >20</text>
<line x1="38.8" y1="340.9" x2="36.8" y2="340.9" stroke="#111" stroke-width="1" />
<text x="37.2" y="343.9" font-family="Liberation Sans" font-size="9" font-weight="bold" fill="#111" text-anchor="end" >22</text>
<line x1="38.8" y1="330.6" x2="36.8" y2="330.6" stroke="#111" stroke-width="1" />
<text x="37.2" y="333.6" font-family="Liberation Sans" font-size="9" font-weight="bold" fill="#111" text-anchor="end" >24</text>
<line x1="50.5" y1="438.5" x2="50.5" y2="436.5" stroke="#111" stroke-width="1" />
<text x="51.8" y="448.9" font-family="Liberation Sans" font-size="8.6" font-weight="bold" fill="#111" text-anchor="middle" >10</text>
<line x1="73.6" y1="438.5" x2="73.6" y2="436.5" stroke="#111" stroke-width="1" />
<text x="73.8" y="448.9" font-family="Liberation Sans" font-size="8.6" font-weight="bold" fill="#111" text-anchor="middle" >10</text>
<text x="78.6" y="445.0" font-family="Liberation Sans" font-size="4.5" font-weight="bold" fill="#111" text-anchor="start" >2</text>
<line x1="96.7" y1="438.5" x2="96.7" y2="436.5" stroke="#111" stroke-width="1" />
<text x="96.9" y="448.9" font-family="Liberation Sans" font-size="8.6" font-weight="bold" fill="#111" text-anchor="middle" >10</text>
<text x="101.7" y="445.0" font-family="Liberation Sans" font-size="4.5" font-weight="bold" fill="#111" text-anchor="start" >3</text>
<line x1="119.8" y1="438.5" x2="119.8" y2="436.5" stroke="#111" stroke-width="1" />
<text x="120.0" y="448.9" font-family="Liberation Sans" font-size="8.6" font-weight="bold" fill="#111" text-anchor="middle" >10</text>
<text x="124.8" y="445.0" font-family="Liberation Sans" font-size="4.5" font-weight="bold" fill="#111" text-anchor="start" >4</text>
<line x1="142.9" y1="438.5" x2="142.9" y2="436.5" stroke="#111" stroke-width="1" />
<text x="143.1" y="448.9" font-family="Liberation Sans" font-size="8.6" font-weight="bold" fill="#111" text-anchor="middle" >10</text>
<text x="147.9" y="445.0" font-family="Liberation Sans" font-size="4.5" font-weight="bold" fill="#111" text-anchor="start" >5</text>
<line x1="166.0" y1="438.5" x2="166.0" y2="436.5" stroke="#111" stroke-width="1" />
<text x="166.2" y="448.9" font-family="Liberation Sans" font-size="8.6" font-weight="bold" fill="#111" text-anchor="middle" >10</text>
<text x="171.0" y="445.0" font-family="Liberation Sans" font-size="4.5" font-weight="bold" fill="#111" text-anchor="start" >6</text>
<text x="48.1" y="457.6" font-family="Liberation Sans" font-size="8.6" font-weight="bold" fill="#111" text-anchor="start"  textLength="122" lengthAdjust="spacingAndGlyphs">Target DNA concentration(fM)</text>
<g transform="translate(23.7,400.4) rotate(-90)"><text font-family="Liberation Sans" font-size="9.5" font-weight="bold" fill="#111" textLength="49.4" lengthAdjust="spacingAndGlyphs">|ΔI<tspan font-size="5" dy="2">ds</tspan><tspan dy="-2">|/I</tspan><tspan font-size="5" dy="2">ds0</tspan><tspan dy="-2">(%)</tspan></text></g>
<rect x="227.2" y="425.7" width="14.0" height="16.0" fill="#effafb" stroke="none" stroke-width="1" />
<rect x="241.2" y="412.4" width="14.0" height="16.0" fill="#effafb" stroke="none" stroke-width="1" />
<rect x="255.3" y="402.1" width="14.0" height="16.0" fill="#effafb" stroke="none" stroke-width="1" />
<rect x="269.3" y="388.7" width="14.0" height="16.0" fill="#effafb" stroke="none" stroke-width="1" />
<rect x="283.3" y="377.2" width="14.0" height="16.0" fill="#effafb" stroke="none" stroke-width="1" />
<rect x="297.3" y="360.9" width="14.0" height="16.0" fill="#effafb" stroke="none" stroke-width="1" />
<rect x="311.3" y="345.7" width="14.0" height="16.0" fill="#effafb" stroke="none" stroke-width="1" />
<rect x="325.4" y="333.0" width="14.0" height="16.0" fill="#effafb" stroke="none" stroke-width="1" />
<rect x="339.4" y="320.2" width="14.0" height="16.0" fill="#effafb" stroke="none" stroke-width="1" />
<line x1="234.2" y1="434.2" x2="346.4" y2="328.7" stroke="#4c9a24" stroke-width="1.2" />
<circle cx="234.2" cy="433.7" r="1.7" fill="#2a4a8a"/>
<circle cx="248.2" cy="420.4" r="1.7" fill="#2a4a8a"/>
<circle cx="262.3" cy="410.1" r="1.7" fill="#2a4a8a"/>
<line x1="276.3" y1="395.3" x2="276.3" y2="398.2" stroke="#6a90c0" stroke-width="0.7" />
<line x1="274.3" y1="395.3" x2="278.3" y2="395.3" stroke="#6a90c0" stroke-width="0.7" />
<line x1="274.3" y1="398.2" x2="278.3" y2="398.2" stroke="#6a90c0" stroke-width="0.7" />
<circle cx="276.3" cy="396.7" r="1.7" fill="#2a4a8a"/>
<line x1="290.3" y1="383.4" x2="290.3" y2="387.0" stroke="#6a90c0" stroke-width="0.7" />
<line x1="288.3" y1="383.4" x2="292.3" y2="383.4" stroke="#6a90c0" stroke-width="0.7" />
<line x1="288.3" y1="387.0" x2="292.3" y2="387.0" stroke="#6a90c0" stroke-width="0.7" />
<circle cx="290.3" cy="385.2" r="1.7" fill="#2a4a8a"/>
<line x1="304.3" y1="365.8" x2="304.3" y2="371.9" stroke="#6a90c0" stroke-width="0.7" />
<line x1="302.3" y1="365.8" x2="306.3" y2="365.8" stroke="#6a90c0" stroke-width="0.7" />
<line x1="302.3" y1="371.9" x2="306.3" y2="371.9" stroke="#6a90c0" stroke-width="0.7" />
<circle cx="304.3" cy="368.9" r="1.7" fill="#2a4a8a"/>
<line x1="318.3" y1="350.1" x2="318.3" y2="357.3" stroke="#6a90c0" stroke-width="0.7" />
<line x1="316.3" y1="350.1" x2="320.3" y2="350.1" stroke="#6a90c0" stroke-width="0.7" />
<line x1="316.3" y1="357.3" x2="320.3" y2="357.3" stroke="#6a90c0" stroke-width="0.7" />
<circle cx="318.3" cy="353.7" r="1.7" fill="#2a4a8a"/>
<line x1="332.4" y1="336.7" x2="332.4" y2="345.2" stroke="#6a90c0" stroke-width="0.7" />
<line x1="330.4" y1="336.7" x2="334.4" y2="336.7" stroke="#6a90c0" stroke-width="0.7" />
<line x1="330.4" y1="345.2" x2="334.4" y2="345.2" stroke="#6a90c0" stroke-width="0.7" />
<circle cx="332.4" cy="341.0" r="1.7" fill="#2a4a8a"/>
<line x1="346.4" y1="324.0" x2="346.4" y2="332.5" stroke="#6a90c0" stroke-width="0.7" />
<line x1="344.4" y1="324.0" x2="348.4" y2="324.0" stroke="#6a90c0" stroke-width="0.7" />
<line x1="344.4" y1="332.5" x2="348.4" y2="332.5" stroke="#6a90c0" stroke-width="0.7" />
<circle cx="346.4" cy="328.2" r="1.7" fill="#2a4a8a"/>
<rect x="220.2" y="323.4" width="140.2" height="121.2" fill="none" stroke="#555" stroke-width="1" />
<line x1="220.2" y1="444.6" x2="218.4" y2="444.6" stroke="#555" stroke-width="0.8" />
<text x="215.2" y="446.6" font-family="Liberation Sans" font-size="5.9" font-weight="bold" fill="#333" text-anchor="end" >0</text>
<line x1="220.2" y1="420.4" x2="218.4" y2="420.4" stroke="#555" stroke-width="0.8" />
<text x="215.2" y="422.4" font-family="Liberation Sans" font-size="5.9" font-weight="bold" fill="#333" text-anchor="end" >20</text>
<line x1="220.2" y1="396.1" x2="218.4" y2="396.1" stroke="#555" stroke-width="0.8" />
<text x="215.2" y="398.1" font-family="Liberation Sans" font-size="5.9" font-weight="bold" fill="#333" text-anchor="end" >40</text>
<line x1="220.2" y1="371.9" x2="218.4" y2="371.9" stroke="#555" stroke-width="0.8" />
<text x="215.2" y="373.9" font-family="Liberation Sans" font-size="5.9" font-weight="bold" fill="#333" text-anchor="end" >60</text>
<line x1="220.2" y1="347.6" x2="218.4" y2="347.6" stroke="#555" stroke-width="0.8" />
<text x="215.2" y="349.6" font-family="Liberation Sans" font-size="5.9" font-weight="bold" fill="#333" text-anchor="end" >80</text>
<line x1="220.2" y1="323.4" x2="218.4" y2="323.4" stroke="#555" stroke-width="0.8" />
<text x="215.2" y="325.4" font-family="Liberation Sans" font-size="5.9" font-weight="bold" fill="#333" text-anchor="end" >100</text>
<line x1="220.2" y1="444.6" x2="220.2" y2="446.4" stroke="#555" stroke-width="0.8" />
<text x="219.7" y="453.6" font-family="Liberation Sans" font-size="5.4" font-weight="bold" fill="#333" text-anchor="middle" >-17</text>
<line x1="234.2" y1="444.6" x2="234.2" y2="446.4" stroke="#555" stroke-width="0.8" />
<text x="233.7" y="453.6" font-family="Liberation Sans" font-size="5.4" font-weight="bold" fill="#333" text-anchor="middle" >-16</text>
<line x1="248.2" y1="444.6" x2="248.2" y2="446.4" stroke="#555" stroke-width="0.8" />
<text x="247.7" y="453.6" font-family="Liberation Sans" font-size="5.4" font-weight="bold" fill="#333" text-anchor="middle" >-15</text>
<line x1="262.3" y1="444.6" x2="262.3" y2="446.4" stroke="#555" stroke-width="0.8" />
<text x="261.8" y="453.6" font-family="Liberation Sans" font-size="5.4" font-weight="bold" fill="#333" text-anchor="middle" >-14</text>
<line x1="276.3" y1="444.6" x2="276.3" y2="446.4" stroke="#555" stroke-width="0.8" />
<text x="275.8" y="453.6" font-family="Liberation Sans" font-size="5.4" font-weight="bold" fill="#333" text-anchor="middle" >-13</text>
<line x1="290.3" y1="444.6" x2="290.3" y2="446.4" stroke="#555" stroke-width="0.8" />
<text x="289.8" y="453.6" font-family="Liberation Sans" font-size="5.4" font-weight="bold" fill="#333" text-anchor="middle" >-12</text>
<line x1="304.3" y1="444.6" x2="304.3" y2="446.4" stroke="#555" stroke-width="0.8" />
<text x="303.8" y="453.6" font-family="Liberation Sans" font-size="5.4" font-weight="bold" fill="#333" text-anchor="middle" >-11</text>
<line x1="318.3" y1="444.6" x2="318.3" y2="446.4" stroke="#555" stroke-width="0.8" />
<text x="317.8" y="453.6" font-family="Liberation Sans" font-size="5.4" font-weight="bold" fill="#333" text-anchor="middle" >-10</text>
<line x1="332.4" y1="444.6" x2="332.4" y2="446.4" stroke="#555" stroke-width="0.8" />
<text x="331.9" y="453.6" font-family="Liberation Sans" font-size="5.4" font-weight="bold" fill="#333" text-anchor="middle" >-9</text>
<line x1="346.4" y1="444.6" x2="346.4" y2="446.4" stroke="#555" stroke-width="0.8" />
<text x="345.9" y="453.6" font-family="Liberation Sans" font-size="5.4" font-weight="bold" fill="#333" text-anchor="middle" >-8</text>
<line x1="360.4" y1="444.6" x2="360.4" y2="446.4" stroke="#555" stroke-width="0.8" />
<text x="359.9" y="453.6" font-family="Liberation Sans" font-size="5.4" font-weight="bold" fill="#333" text-anchor="middle" >-7</text>
<text x="224.8" y="333.2" font-family="Liberation Sans" font-size="7.2" font-weight="bold" fill="#304078" text-anchor="start" >b</text>
<text x="232.1" y="345.4" font-family="Liberation Sans" font-size="6.1" font-weight="bold" fill="#222" text-anchor="start"  textLength="57" lengthAdjust="spacingAndGlyphs">y = 10.976x + 183.78</text>
<text x="245.2" y="352.4" font-family="Liberation Sans" font-size="6.1" font-weight="bold" fill="#222" text-anchor="start"  textLength="30.5" lengthAdjust="spacingAndGlyphs">R<tspan font-size="3.5" dy="-2.5">2</tspan><tspan dy="2.5"> = 0.9979</tspan></text>
<text x="266.2" y="462.2" font-family="Liberation Sans" font-size="6.7" font-weight="bold" fill="#333" text-anchor="start"  textLength="49.4" lengthAdjust="spacingAndGlyphs">Log C<tspan font-size="3.2" dy="1.5">miRNA target</tspan><tspan dy="-1.5">(M)</tspan></text>
<g transform="translate(205.6,390.1) rotate(-90)"><text font-family="Liberation Sans" font-size="6.5" font-weight="bold" fill="#333" textLength="20.2" lengthAdjust="spacingAndGlyphs">ΔI/I<tspan font-size="4" dy="1.5">0</tspan><tspan dy="-1.5"> %</tspan></text></g>
<clipPath id="hclip"><rect x="394.4" y="334.3" width="143.89999999999998" height="105.19999999999999"/></clipPath>
<path d="M400.0,439.6 C402.9,439.6 413.6,439.6 417.6,439.5 C421.7,439.5 422.1,439.5 424.3,439.1 C426.5,438.8 428.4,438.2 430.6,437.4 C432.8,436.5 434.3,436.4 437.4,434.1 C440.5,431.7 445.4,427.0 449.1,423.4 C452.8,419.8 456.3,415.8 459.7,412.5 C463.1,409.2 466.3,406.4 469.4,403.5 C472.5,400.5 475.1,397.8 478.4,394.9 C481.6,391.9 485.2,388.9 488.9,385.7 C492.7,382.5 496.3,379.3 500.9,375.5 C505.5,371.7 510.7,367.2 516.7,362.8 C522.6,358.5 532.2,352.1 536.4,349.3 C540.6,346.4 541.1,346.2 542.0,345.6" stroke="#fde6f0" fill="none" stroke-width="14" clip-path="url(#hclip)"/>
<path d="M400.0,439.6 C402.0,439.6 408.9,439.6 412.0,439.5 C415.1,439.4 416.5,439.5 418.7,439.1 C420.9,438.7 422.8,438.0 425.0,437.0 C427.2,436.0 428.7,435.6 431.8,433.2 C434.9,430.8 439.9,426.1 443.5,422.6 C447.1,419.2 450.2,415.8 453.6,412.5 C457.0,409.2 460.7,406.0 463.8,403.0 C466.9,400.0 469.3,397.5 472.5,394.5 C475.7,391.5 479.3,388.3 483.0,385.0 C486.7,381.7 489.6,378.8 494.5,374.5 C499.4,370.2 505.7,364.7 512.7,359.5 C519.7,354.3 531.5,346.5 536.4,343.2 C541.3,339.9 541.1,340.1 542.0,339.5" stroke="#b85a38" fill="none" stroke-width="1.3" clip-path="url(#hclip)"/>
<path d="M400.0,439.6 C402.5,439.6 411.6,439.6 415.2,439.5 C418.9,439.4 419.7,439.5 421.9,439.1 C424.1,438.7 426.0,438.1 428.2,437.2 C430.4,436.3 431.9,436.1 435.0,433.7 C438.1,431.3 443.0,426.6 446.7,423.0 C450.4,419.5 453.7,415.8 457.1,412.5 C460.5,409.2 463.9,406.2 467.0,403.3 C470.1,400.3 472.6,397.7 475.9,394.7 C479.1,391.7 482.7,388.7 486.4,385.4 C490.1,382.1 493.4,379.1 498.1,375.1 C502.9,371.1 508.6,366.1 515.0,361.4 C521.3,356.7 531.9,349.7 536.4,346.7 C540.9,343.6 541.1,343.6 542.0,343.0" stroke="#f0a050" fill="none" stroke-width="1.3" clip-path="url(#hclip)"/>
<path d="M400.0,439.6 C402.9,439.6 413.3,439.6 417.3,439.5 C421.3,439.5 421.8,439.5 424.0,439.1 C426.1,438.8 428.1,438.2 430.3,437.3 C432.5,436.5 434.0,436.4 437.1,434.0 C440.2,431.7 445.1,426.9 448.8,423.3 C452.5,419.7 456.0,415.8 459.4,412.5 C462.8,409.2 466.0,406.4 469.1,403.4 C472.2,400.5 474.8,397.8 478.0,394.8 C481.3,391.9 484.9,388.9 488.6,385.7 C492.4,382.4 495.9,379.3 500.5,375.4 C505.1,371.6 510.4,367.1 516.4,362.6 C522.4,358.2 532.1,351.8 536.4,348.9 C540.7,346.0 541.1,345.8 542.0,345.2" stroke="#e8d060" fill="none" stroke-width="1.3" clip-path="url(#hclip)"/>
<path d="M400.0,439.6 C403.2,439.6 414.9,439.6 419.2,439.5 C423.5,439.5 423.7,439.5 425.9,439.1 C428.1,438.8 430.0,438.3 432.2,437.5 C434.4,436.6 435.9,436.6 439.0,434.3 C442.1,432.0 447.0,427.2 450.7,423.6 C454.4,420.0 458.1,415.8 461.5,412.5 C464.9,409.2 467.9,406.5 471.0,403.6 C474.1,400.7 476.8,397.9 480.1,395.0 C483.3,392.0 486.9,389.1 490.7,385.9 C494.4,382.7 498.2,379.4 502.7,375.8 C507.2,372.1 512.2,367.9 517.8,363.8 C523.4,359.6 532.4,353.7 536.4,351.0 C540.4,348.2 541.1,347.9 542.0,347.3" stroke="#70a840" fill="none" stroke-width="1.3" clip-path="url(#hclip)"/>
<path d="M400.0,439.6 C403.5,439.6 416.6,439.6 421.3,439.6 C425.9,439.5 425.8,439.5 428.0,439.2 C430.1,438.8 432.1,438.3 434.3,437.6 C436.5,436.8 438.0,436.9 441.1,434.6 C444.2,432.4 449.0,427.6 452.8,423.9 C456.6,420.2 460.4,415.9 463.8,412.5 C467.1,409.1 470.0,406.7 473.1,403.8 C476.2,400.9 478.9,398.0 482.2,395.1 C485.5,392.1 489.1,389.3 492.9,386.2 C496.7,383.0 500.7,379.6 505.1,376.1 C509.5,372.6 514.0,368.8 519.3,365.0 C524.5,361.2 532.6,355.8 536.4,353.2 C540.2,350.7 541.1,350.2 542.0,349.5" stroke="#70a8e8" fill="none" stroke-width="1.3" clip-path="url(#hclip)"/>
<path d="M400.0,439.6 C403.8,439.6 417.9,439.6 422.9,439.6 C427.8,439.5 427.4,439.5 429.6,439.2 C431.7,438.9 433.7,438.4 435.9,437.7 C438.1,437.0 439.6,437.2 442.7,434.9 C445.8,432.6 450.6,427.8 454.4,424.1 C458.2,420.4 462.1,415.9 465.5,412.5 C468.9,409.1 471.6,406.8 474.7,403.9 C477.8,401.0 480.6,398.1 483.9,395.2 C487.2,392.3 490.7,389.5 494.6,386.4 C498.4,383.2 502.6,379.8 506.9,376.4 C511.2,373.0 515.5,369.5 520.4,366.0 C525.3,362.4 532.8,357.4 536.4,355.0 C540.0,352.5 541.1,351.9 542.0,351.3" stroke="#6a50e0" fill="none" stroke-width="1.3" clip-path="url(#hclip)"/>
<path d="M400.0,439.6 C404.7,439.6 422.2,439.7 428.0,439.6 C433.8,439.5 432.5,439.5 434.7,439.2 C436.9,438.9 438.8,438.6 441.0,438.0 C443.2,437.4 444.7,437.9 447.8,435.7 C450.9,433.5 455.6,428.7 459.5,424.8 C463.4,420.9 467.7,415.9 471.1,412.5 C474.5,409.1 476.8,407.1 479.8,404.3 C482.8,401.5 485.9,398.4 489.3,395.5 C492.7,392.6 496.1,390.0 500.0,387.0 C503.9,384.0 508.7,380.3 512.7,377.3 C516.7,374.3 520.0,371.8 524.0,369.0 C528.0,366.2 533.4,362.5 536.4,360.5 C539.4,358.5 541.1,357.4 542.0,356.8" stroke="#111" fill="none" stroke-width="1.3" clip-path="url(#hclip)"/>
<rect x="394.4" y="334.3" width="143.9" height="105.2" fill="none" stroke="#222" stroke-width="1.2" />
<line x1="394.4" y1="413.2" x2="396.9" y2="413.2" stroke="#222" stroke-width="1" />
<text x="391.9" y="416.0" font-family="Liberation Sans" font-size="8" font-weight="bold" fill="#111" text-anchor="end" >6</text>
<line x1="394.4" y1="386.9" x2="396.9" y2="386.9" stroke="#222" stroke-width="1" />
<text x="391.9" y="389.7" font-family="Liberation Sans" font-size="8" font-weight="bold" fill="#111" text-anchor="end" >12</text>
<line x1="394.4" y1="360.6" x2="396.9" y2="360.6" stroke="#222" stroke-width="1" />
<text x="391.9" y="363.4" font-family="Liberation Sans" font-size="8" font-weight="bold" fill="#111" text-anchor="end" >18</text>
<text x="391.2" y="337.3" font-family="Liberation Sans" font-size="8" font-weight="bold" fill="#111" text-anchor="end" >24</text>
<line x1="394.4" y1="439.5" x2="394.4" y2="437.0" stroke="#222" stroke-width="1" />
<text x="393.4" y="449.0" font-family="Liberation Sans" font-size="8" font-weight="bold" fill="#111" text-anchor="middle" >-4</text>
<line x1="418.4" y1="439.5" x2="418.4" y2="437.0" stroke="#222" stroke-width="1" />
<text x="417.4" y="449.0" font-family="Liberation Sans" font-size="8" font-weight="bold" fill="#111" text-anchor="middle" >-3</text>
<line x1="442.4" y1="439.5" x2="442.4" y2="437.0" stroke="#222" stroke-width="1" />
<text x="441.4" y="449.0" font-family="Liberation Sans" font-size="8" font-weight="bold" fill="#111" text-anchor="middle" >-2</text>
<line x1="466.3" y1="439.5" x2="466.3" y2="437.0" stroke="#222" stroke-width="1" />
<text x="465.3" y="449.0" font-family="Liberation Sans" font-size="8" font-weight="bold" fill="#111" text-anchor="middle" >-1</text>
<line x1="490.3" y1="439.5" x2="490.3" y2="437.0" stroke="#222" stroke-width="1" />
<text x="490.3" y="449.0" font-family="Liberation Sans" font-size="8" font-weight="bold" fill="#111" text-anchor="middle" >0</text>
<line x1="514.3" y1="439.5" x2="514.3" y2="437.0" stroke="#222" stroke-width="1" />
<text x="514.3" y="449.0" font-family="Liberation Sans" font-size="8" font-weight="bold" fill="#111" text-anchor="middle" >1</text>
<line x1="538.3" y1="439.5" x2="538.3" y2="437.0" stroke="#222" stroke-width="1" />
<text x="538.3" y="449.0" font-family="Liberation Sans" font-size="8" font-weight="bold" fill="#111" text-anchor="middle" >2</text>
<line x1="399.2" y1="340.5" x2="412.9" y2="340.5" stroke="#111" stroke-width="1.3" />
<text x="414.0" y="342.5" font-family="Liberation Sans" font-size="5.4" font-weight="bold" fill="#333" text-anchor="start"  textLength="16.7" lengthAdjust="spacingAndGlyphs">Before</text>
<line x1="399.2" y1="347.9" x2="412.9" y2="347.9" stroke="#b85a38" stroke-width="1.3" />
<text x="414.0" y="349.9" font-family="Liberation Sans" font-size="5.4" font-weight="bold" fill="#333" text-anchor="start"  textLength="25.6" lengthAdjust="spacingAndGlyphs">Aβ<tspan font-size='3' dy='1.5'>1-42</tspan><tspan dy='-1.5'> 10%</tspan></text>
<line x1="399.2" y1="355.4" x2="412.9" y2="355.4" stroke="#e0b050" stroke-width="1.3" />
<text x="414.0" y="357.4" font-family="Liberation Sans" font-size="5.4" font-weight="bold" fill="#333" text-anchor="start"  textLength="31.6" lengthAdjust="spacingAndGlyphs">MMP-9 1 pM</text>
<line x1="399.2" y1="362.9" x2="412.9" y2="362.9" stroke="#e8d060" stroke-width="1.3" />
<text x="414.0" y="364.9" font-family="Liberation Sans" font-size="5.4" font-weight="bold" fill="#333" text-anchor="start"  textLength="34" lengthAdjust="spacingAndGlyphs">MMP-9 10 pM</text>
<line x1="399.2" y1="370.3" x2="412.9" y2="370.3" stroke="#70a840" stroke-width="1.3" />
<text x="414.0" y="372.3" font-family="Liberation Sans" font-size="5.4" font-weight="bold" fill="#333" text-anchor="start"  textLength="37" lengthAdjust="spacingAndGlyphs">MMP-9 100 pM</text>
<line x1="399.2" y1="377.8" x2="412.9" y2="377.8" stroke="#70a8e8" stroke-width="1.3" />
<text x="414.0" y="379.8" font-family="Liberation Sans" font-size="5.4" font-weight="bold" fill="#333" text-anchor="start"  textLength="31.6" lengthAdjust="spacingAndGlyphs">MMP-9 1 nM</text>
<line x1="399.2" y1="385.2" x2="412.9" y2="385.2" stroke="#6a50e0" stroke-width="1.3" />
<text x="414.0" y="387.2" font-family="Liberation Sans" font-size="5.4" font-weight="bold" fill="#333" text-anchor="start"  textLength="34" lengthAdjust="spacingAndGlyphs">MMP-9 10 nM</text>
<g transform="translate(376.6,412.8) rotate(-90)"><text font-family="Liberation Sans" font-size="11.5" font-weight="bold" fill="#111" textLength="37.3" lengthAdjust="spacingAndGlyphs"><tspan font-style="italic">I</tspan><tspan font-size="7" dy="3">ds</tspan><tspan dy="-3">(µA)</tspan></text></g>
<text x="450.5" y="458.7" font-family="Liberation Sans" font-size="10.6" font-weight="bold" fill="#111" text-anchor="start"  textLength="32" lengthAdjust="spacingAndGlyphs"><tspan font-style="italic">V</tspan><tspan font-size="6.5" dy="3.5">gs</tspan><tspan dy="-3.5"> (V)</tspan></text>
<defs>
<linearGradient id="fr" x1="0" y1="0" x2="0" y2="1"><stop offset="0" stop-color="#dce6cf"/><stop offset="1" stop-color="#d4e3c6"/></linearGradient>
<radialGradient id="dome" cx="0.5" cy="0.9" r="0.8"><stop offset="0" stop-color="#e8eefa"/><stop offset="1" stop-color="#c8d8f0"/></radialGradient>
<linearGradient id="ybox" x1="0" y1="0" x2="1" y2="1"><stop offset="0" stop-color="#f8f0c4"/><stop offset="1" stop-color="#eee0a0"/></linearGradient>
<linearGradient id="ysrc" x1="0" y1="0" x2="1" y2="0"><stop offset="0" stop-color="#d8d040"/><stop offset="1" stop-color="#e8dc50"/></linearGradient>
</defs>
<rect x="44.3" y="12.3" width="235.0" height="140.5" fill="url(#fr)" stroke="none" stroke-width="1" />
<path d="M47.0,152.0 L47.0,148.0 L84.0,132.0 L234.0,127.0 L261.0,139.0 L276.0,146.0 L276.0,152.0" stroke="none" fill="#d6e6cc" stroke-width="1" />
<path d="M47.0,26.5 L132.0,26.0 L134.0,42.0 L134.0,100.0 L118.0,112.0 L84.0,132.0 L47.0,148.0" stroke="none" fill="#fbfcfa" stroke-width="1" />
<path d="M190.2,31.9 L276.0,28.5 L276.0,150.0 L261.0,141.8 L234.0,127.0 L190.2,118.0" stroke="none" fill="#fbfcfa" stroke-width="1" />
<text x="61.5" y="21.8" font-family="Liberation Sans" font-size="8.4" font-weight="bold" fill="#2a3ad0" text-anchor="start" transform="rotate(4 61.5 21.8)" textLength="64.5" lengthAdjust="spacingAndGlyphs">MoS<tspan font-size="5.5" dy="2">2</tspan><tspan dy="-2"> Protein-Sensing </tspan><tspan font-size="7.5">Device</tspan></text>
<text x="204.5" y="26.5" font-family="Liberation Sans" font-size="6.2" font-weight="bold" fill="#2a3ad0" text-anchor="start" transform="rotate(-2.5 204.5 26.5)" textLength="50" lengthAdjust="spacingAndGlyphs">MoS<tspan font-size="4" dy="1.5">2</tspan><tspan dy="-1.5"> pH-Sensing </tspan><tspan font-size="9.5">Device</tspan></text>
<text x="73.2" y="32.0" font-family="Liberation Sans" font-size="5.8" font-weight="bold" fill="#333" text-anchor="start" transform="rotate(2.5 73.2 32)" textLength="50.2" lengthAdjust="spacingAndGlyphs">Electrolyte Gate Voltage (V)</text>
<text x="204.0" y="35.6" font-family="Liberation Sans" font-size="5.4" font-weight="bold" fill="#333" text-anchor="start"  textLength="47.5" lengthAdjust="spacingAndGlyphs">Electrolyte Gate Voltage (V)</text>
<line x1="63.0" y1="39.5" x2="63.0" y2="141.0" stroke="#333" stroke-width="1" stroke-dasharray="1.6,1"/>
<line x1="63.0" y1="39.5" x2="131.0" y2="39.5" stroke="#333" stroke-width="0.9" />
<line x1="63.0" y1="141.0" x2="84.0" y2="132.5" stroke="#335555" stroke-width="1" />
<text x="67.3" y="38.0" font-family="Liberation Sans" font-size="5" font-weight="normal" fill="#333" text-anchor="middle" >0.2</text>
<text x="79.5" y="38.0" font-family="Liberation Sans" font-size="5" font-weight="normal" fill="#333" text-anchor="middle" >0.4</text>
<text x="91.7" y="38.0" font-family="Liberation Sans" font-size="5" font-weight="normal" fill="#333" text-anchor="middle" >0.6</text>
<text x="103.9" y="38.0" font-family="Liberation Sans" font-size="5" font-weight="normal" fill="#333" text-anchor="middle" >0.8</text>
<text x="116.1" y="38.0" font-family="Liberation Sans" font-size="5" font-weight="normal" fill="#333" text-anchor="middle" >1.0</text>
<text x="128.3" y="38.0" font-family="Liberation Sans" font-size="5" font-weight="normal" fill="#333" text-anchor="middle" >1.2</text>
<text x="60.6" y="43.4" font-family="Liberation Sans" font-size="5.5" font-weight="bold" fill="#333" text-anchor="end" >10</text>
<text x="60.8" y="40.4" font-family="Liberation Sans" font-size="3" font-weight="normal" fill="#333" text-anchor="start" >1</text>
<text x="60.6" y="69.6" font-family="Liberation Sans" font-size="5.5" font-weight="bold" fill="#333" text-anchor="end" >10</text>
<text x="60.8" y="66.6" font-family="Liberation Sans" font-size="3" font-weight="normal" fill="#333" text-anchor="start" >0</text>
<text x="60.6" y="94.9" font-family="Liberation Sans" font-size="5.5" font-weight="bold" fill="#333" text-anchor="end" >10</text>
<text x="60.8" y="91.9" font-family="Liberation Sans" font-size="3" font-weight="normal" fill="#333" text-anchor="start" >-1</text>
<text x="60.6" y="120.8" font-family="Liberation Sans" font-size="5.5" font-weight="bold" fill="#333" text-anchor="end" >10</text>
<text x="60.8" y="117.8" font-family="Liberation Sans" font-size="3" font-weight="normal" fill="#333" text-anchor="start" >-1</text>
<text x="60.6" y="144.5" font-family="Liberation Sans" font-size="5.5" font-weight="bold" fill="#333" text-anchor="end" >10</text>
<text x="60.8" y="141.5" font-family="Liberation Sans" font-size="3" font-weight="normal" fill="#333" text-anchor="start" >-2</text>
<g transform="translate(53.6,110) rotate(-90)"><text font-family="Liberation Sans" font-size="6.6" font-weight="bold" fill="#333" textLength="40" lengthAdjust="spacingAndGlyphs">Current (µA)</text></g>
<path d="M67.0,141.0 C67.8,137.8 70.3,127.5 72.0,122.0 C73.7,116.5 74.4,113.5 77.3,108.0 C80.2,102.5 85.4,94.7 89.2,89.2 C93.0,83.7 96.1,79.6 100.0,75.0 C103.9,70.4 109.0,64.7 112.7,61.4 C116.4,58.1 119.0,56.6 122.0,55.0 C125.0,53.4 129.5,52.1 131.0,51.5" stroke="#c8b48a" fill="none" stroke-width="1.3" />
<path d="M70.0,140.0 C70.8,137.0 73.2,127.3 75.0,122.0 C76.8,116.7 77.7,113.2 80.5,108.0 C83.3,102.8 88.2,95.7 92.0,90.5 C95.8,85.3 99.2,81.4 103.0,77.0 C106.8,72.6 111.5,67.2 115.0,64.0 C118.5,60.8 121.3,59.5 124.0,58.0 C126.7,56.5 129.8,55.5 131.0,55.0" stroke="#b8c8a0" fill="none" stroke-width="1" />
<text x="92.7" y="49.0" font-family="Liberation Sans" font-size="4.2" font-weight="bold" fill="#d05838" text-anchor="start"  textLength="30" lengthAdjust="spacingAndGlyphs">Streptavidin (target)</text>
<text x="93.5" y="54.5" font-family="Liberation Sans" font-size="4.2" font-weight="bold" fill="#e04060" text-anchor="start"  textLength="28" lengthAdjust="spacingAndGlyphs">100 femto-Molar</text>
<text x="118.0" y="62.0" font-family="Liberation Sans" font-size="4.2" font-weight="bold" fill="#60a040" text-anchor="start"  textLength="11" lengthAdjust="spacingAndGlyphs">Buffer</text>
<path d="M71,45 L78.5,45 L78.5,52 L71,52 Z M71,45 L69.5,43.5 M78.5,45 L80,43.5 M71,52 L69.5,53.5 M78.5,52 L80,53.5" stroke="#555" fill="none" stroke-width="0.8" />
<path d="M74.7,52.5 C72.5,55 77,57 74.5,60 C72.5,62.5 76.5,64 74.5,66 L74.5,84 M74.5,69 L71.5,66 M74.5,69 L77.5,66 M74.5,83 L71,86 M74.5,83 L78,86" stroke="#555" fill="none" stroke-width="0.8" />
<text x="80.2" y="64.0" font-family="Liberation Sans" font-size="4.2" font-weight="bold" fill="#333" text-anchor="start" >Biotin</text>
<text x="80.2" y="69.0" font-family="Liberation Sans" font-size="4.2" font-weight="bold" fill="#333" text-anchor="start"  textLength="13.5" lengthAdjust="spacingAndGlyphs">(receptor)</text>
<rect x="66.0" y="85.5" width="15.0" height="3.8" fill="#f0b8c8" stroke="none" stroke-width="1" />
<rect x="66.0" y="89.3" width="15.0" height="3.0" fill="#f4e8ec" stroke="none" stroke-width="1" />
<rect x="66.0" y="92.3" width="15.0" height="2.5" fill="#f0c8d8" stroke="none" stroke-width="1" />
<rect x="66.0" y="97.5" width="15.0" height="3.5" fill="#b8e0c0" stroke="none" stroke-width="1" />
<rect x="66.0" y="101.0" width="15.0" height="3.0" fill="#f0c8d8" stroke="none" stroke-width="1" />
<text x="73.5" y="88.4" font-family="Liberation Sans" font-size="2.8" font-weight="normal" fill="#c03040" text-anchor="middle" >Dielectric</text>
<text x="73.5" y="100.3" font-family="Liberation Sans" font-size="2.8" font-weight="normal" fill="#333" text-anchor="middle" >MoS2</text>
<rect x="141.0" y="15.5" width="40.0" height="44.5" fill="url(#ybox)" stroke="#d0c890" stroke-width="1" rx="7"/>
<text x="150.0" y="21.8" font-family="Liberation Sans" font-size="6.8" font-weight="bold" fill="#3434c0" text-anchor="start"  textLength="21.8" lengthAdjust="spacingAndGlyphs">Ultra-High</text>
<text x="149.0" y="29.0" font-family="Liberation Sans" font-size="6.8" font-weight="bold" fill="#3434c0" text-anchor="start"  textLength="23.7" lengthAdjust="spacingAndGlyphs">Sensitivity</text>
<circle cx="154.5" cy="48.2" r="4.6" fill="#6c6c6c"/><circle cx="153" cy="46.5" r="1.5" fill="#909090"/>
<rect x="162.7" y="30" width="10" height="23" rx="4.5" fill="#3c6a20"/><rect x="164" y="31" width="3" height="20" rx="1.5" fill="#5a8a38"/>
<path d="M164.5,44 L167,34 L164.5,35 M167,34 L168.5,36.5" stroke="#b0f050" stroke-width="1.6" fill="none"/>
<text x="156.4" y="36.0" font-family="Liberation Sans" font-size="4.2" font-weight="normal" fill="#444" text-anchor="start" >74x</text>
<text x="153.6" y="56.2" font-family="Liberation Sans" font-size="3.6" font-weight="normal" fill="#555" text-anchor="middle" >Graphene</text>
<text x="167.3" y="56.2" font-family="Liberation Sans" font-size="3.6" font-weight="normal" fill="#555" text-anchor="middle" >MoS2</text>
<path d="M118,104 C118,92 124,83 132,79 C139,74 146,71 153,71 C163,70 172,71 179,74 C187,78 193,84 196,92 L197,104 Z" stroke="none" fill="url(#dome)" stroke-width="1" opacity="0.95"/>
<text x="134.0" y="79.0" font-family="Liberation Sans" font-size="4.6" font-weight="normal" fill="#4058c0" text-anchor="start" transform="rotate(-20 134 79)">Electrolyte</text>
<circle cx="134.9" cy="89.2" r="4" fill="#5848a8" opacity="0.85"/>
<circle cx="157.5" cy="74.6" r="3.8" fill="#6a3a8a" opacity="0.85"/>
<circle cx="169.8" cy="74.6" r="3.6" fill="#7a4aa0" opacity="0.85"/>
<circle cx="133" cy="92" r="2.5" fill="#806030" opacity="0.85"/>
<circle cx="160" cy="78" r="2.2" fill="#806030" opacity="0.85"/>
<path d="M149.5,98.3 L149.5,94.3 M149.5,94.3 L147.0,91.3 M149.5,94.3 L152.0,91.3" stroke="#6a4a3a" fill="none" stroke-width="1.4" />
<path d="M165.5,96 L165.5,92 M165.5,92 L163.0,89 M165.5,92 L168.0,89" stroke="#6a4a3a" fill="none" stroke-width="1.4" />
<text x="123.0" y="88.0" font-family="Liberation Sans" font-size="3.6" font-weight="normal" fill="#333" text-anchor="start" >Target</text>
<text x="142.0" y="86.0" font-family="Liberation Sans" font-size="3.6" font-weight="normal" fill="#333" text-anchor="start" >Receptor</text>
<text x="173.0" y="77.0" font-family="Liberation Sans" font-size="3.6" font-weight="normal" fill="#333" text-anchor="start" >Target</text>
<path d="M114.0,127.0 L123.0,131.6 L147.0,126.0 L197.0,116.0 L197.0,128.0 L140.0,146.0 L123.0,141.0 L114.0,137.0" stroke="none" fill="#c6a6de" stroke-width="1" />
<path d="M114.0,137.0 L123.0,141.0 L140.0,146.0 L197.0,128.0 L197.0,139.0 L140.0,153.0 L123.0,149.0 L114.0,145.0" stroke="none" fill="#dcc6ee" stroke-width="1" />
<path d="M123.0,149.0 L140.0,153.0 L197.0,139.0 L197.0,141.0 L140.0,153.5" stroke="none" fill="#c0a8d8" stroke-width="1" />
<path d="M169.0,88.0 L195.0,86.0 L197.0,88.0 L197.0,110.0 L190.0,112.0 L169.0,108.0" stroke="none" fill="#dcd044" stroke-width="1" />
<path d="M169.0,88.0 L195.0,86.0 L197.0,88.0 L197.0,92.0 L169.0,93.0" stroke="none" fill="#a8ac40" stroke-width="1" />
<path d="M147.0,119.0 L190.0,112.0 L197.0,110.0 L197.0,117.0 L147.0,127.0" stroke="none" fill="#8a7890" stroke-width="1" />
<path d="M147.0,97.0 L172.0,93.5 L190.0,94.5 L190.0,112.0 L147.0,119.0" stroke="none" fill="#c4a86c" stroke-width="1" />
<circle cx="150.0" cy="100.0" r="1.1" fill="#9058b8" opacity="0.8"/>
<circle cx="154.6" cy="99.5" r="1.1" fill="#9058b8" opacity="0.8"/>
<circle cx="159.2" cy="98.9" r="1.1" fill="#9058b8" opacity="0.8"/>
<circle cx="163.8" cy="98.3" r="1.1" fill="#9058b8" opacity="0.8"/>
<circle cx="168.4" cy="97.8" r="1.1" fill="#9058b8" opacity="0.8"/>
<circle cx="173.0" cy="97.2" r="1.1" fill="#9058b8" opacity="0.8"/>
<circle cx="177.6" cy="96.7" r="1.1" fill="#9058b8" opacity="0.8"/>
<circle cx="182.2" cy="96.2" r="1.1" fill="#9058b8" opacity="0.8"/>
<circle cx="186.8" cy="95.6" r="1.1" fill="#9058b8" opacity="0.8"/>
<circle cx="150.8" cy="103.6" r="1.1" fill="#9058b8" opacity="0.8"/>
<circle cx="155.4" cy="103.0" r="1.1" fill="#9058b8" opacity="0.8"/>
<circle cx="160.0" cy="102.5" r="1.1" fill="#9058b8" opacity="0.8"/>
<circle cx="164.6" cy="101.9" r="1.1" fill="#9058b8" opacity="0.8"/>
<circle cx="169.2" cy="101.4" r="1.1" fill="#9058b8" opacity="0.8"/>
<circle cx="173.8" cy="100.8" r="1.1" fill="#9058b8" opacity="0.8"/>
<circle cx="178.4" cy="100.3" r="1.1" fill="#9058b8" opacity="0.8"/>
<circle cx="183.0" cy="99.8" r="1.1" fill="#9058b8" opacity="0.8"/>
<circle cx="187.6" cy="99.2" r="1.1" fill="#9058b8" opacity="0.8"/>
<circle cx="151.6" cy="107.2" r="1.1" fill="#9058b8" opacity="0.8"/>
<circle cx="156.2" cy="106.7" r="1.1" fill="#9058b8" opacity="0.8"/>
<circle cx="160.8" cy="106.1" r="1.1" fill="#9058b8" opacity="0.8"/>
<circle cx="165.4" cy="105.5" r="1.1" fill="#9058b8" opacity="0.8"/>
<circle cx="170.0" cy="105.0" r="1.1" fill="#9058b8" opacity="0.8"/>
<circle cx="174.6" cy="104.5" r="1.1" fill="#9058b8" opacity="0.8"/>
<circle cx="179.2" cy="103.9" r="1.1" fill="#9058b8" opacity="0.8"/>
<circle cx="183.8" cy="103.4" r="1.1" fill="#9058b8" opacity="0.8"/>
<circle cx="188.4" cy="102.8" r="1.1" fill="#9058b8" opacity="0.8"/>
<circle cx="152.4" cy="110.8" r="1.1" fill="#9058b8" opacity="0.8"/>
<circle cx="157.0" cy="110.2" r="1.1" fill="#9058b8" opacity="0.8"/>
<circle cx="161.6" cy="109.7" r="1.1" fill="#9058b8" opacity="0.8"/>
<circle cx="166.2" cy="109.1" r="1.1" fill="#9058b8" opacity="0.8"/>
<circle cx="170.8" cy="108.6" r="1.1" fill="#9058b8" opacity="0.8"/>
<circle cx="175.4" cy="108.0" r="1.1" fill="#9058b8" opacity="0.8"/>
<circle cx="180.0" cy="107.5" r="1.1" fill="#9058b8" opacity="0.8"/>
<circle cx="184.6" cy="107.0" r="1.1" fill="#9058b8" opacity="0.8"/>
<circle cx="189.2" cy="106.4" r="1.1" fill="#9058b8" opacity="0.8"/>
<circle cx="153.2" cy="114.4" r="1.1" fill="#9058b8" opacity="0.8"/>
<circle cx="157.8" cy="113.9" r="1.1" fill="#9058b8" opacity="0.8"/>
<circle cx="162.4" cy="113.3" r="1.1" fill="#9058b8" opacity="0.8"/>
<circle cx="167.0" cy="112.8" r="1.1" fill="#9058b8" opacity="0.8"/>
<circle cx="171.6" cy="112.2" r="1.1" fill="#9058b8" opacity="0.8"/>
<circle cx="176.2" cy="111.7" r="1.1" fill="#9058b8" opacity="0.8"/>
<circle cx="180.8" cy="111.1" r="1.1" fill="#9058b8" opacity="0.8"/>
<circle cx="185.4" cy="110.6" r="1.1" fill="#9058b8" opacity="0.8"/>
<circle cx="190.0" cy="110.0" r="1.1" fill="#9058b8" opacity="0.8"/>
<path d="M114.0,97.0 L139.0,95.0 L147.0,100.0 L114.0,102.0" stroke="none" fill="#a4a83c" stroke-width="1" />
<path d="M114.0,101.5 L147.0,100.0 L147.0,131.6 L123.0,131.6 L114.0,127.0" stroke="none" fill="url(#ysrc)" stroke-width="1" />
<text x="126.0" y="114.0" font-family="Liberation Sans" font-size="4.6" font-weight="normal" fill="#333" text-anchor="start" >Source</text>
<text x="160.0" y="113.0" font-family="Liberation Sans" font-size="5" font-weight="normal" fill="#333" text-anchor="start" >MoS2</text>
<path d="M120,128 L150,120 M160,116 L195,104" stroke="#f070a0" fill="none" stroke-width="0.8" opacity="0.7"/>
<rect x="83.4" y="104.0" width="38.4" height="46.7" fill="url(#ybox)" stroke="#c8c8a8" stroke-width="1" rx="6.5"/>
<text x="86.6" y="113.0" font-family="Liberation Sans" font-size="6.5" font-weight="bold" fill="#3838b0" text-anchor="start"  textLength="33.6" lengthAdjust="spacingAndGlyphs">Single Molecule</text>
<text x="89.1" y="119.8" font-family="Liberation Sans" font-size="6.5" font-weight="bold" fill="#3838b0" text-anchor="start"  textLength="27" lengthAdjust="spacingAndGlyphs">Detectability</text>
<path d="M100.6,132.7 C104,128 107,131 110,126 C112,123 115,126 118.6,122" stroke="#9050a8" fill="none" stroke-width="1.6" />
<path d="M100.6,129 C104,133 107,124 110,128 C112,131 115,122 118.6,125" stroke="#b070c0" fill="none" stroke-width="1" />
<rect x="94.0" y="135.2" width="13.1" height="7.3" fill="#b88a58" stroke="none" stroke-width="1" />
<rect x="90.7" y="135.2" width="3.3" height="7.3" fill="#e0c838" stroke="none" stroke-width="1" />
<rect x="107.1" y="135.2" width="4.1" height="7.3" fill="#e0c838" stroke="none" stroke-width="1" />
<rect x="90.0" y="144.2" width="22.8" height="4.1" fill="#e0c8f0" stroke="none" stroke-width="1" />
<rect x="194.5" y="102.8" width="39.7" height="47.5" fill="#f2e8b8" stroke="#c8c8a8" stroke-width="1" rx="6.5"/>
<rect x="196.0" y="104.0" width="36.0" height="8.0" fill="#d8d0f0" stroke="none" stroke-width="1" rx="3"/>
<text x="199.7" y="110.4" font-family="Liberation Sans" font-size="6.5" font-weight="bold" fill="#3838b0" text-anchor="start"  textLength="29.3" lengthAdjust="spacingAndGlyphs">Planar Nature</text>
<rect x="196.2" y="111.4" width="27.7" height="34.6" fill="#1c2212" stroke="none" stroke-width="1" rx="2"/>
<path d="M199.7,127 L221.3,127 L221.3,142.5 L199.7,142.5 Z M202.5,129.5 L202.5,140 L218.5,140 L218.5,129.5 Z" stroke="none" fill="#a8b098" stroke-width="1" fill-rule="evenodd"/>
<rect x="209.0" y="117.0" width="4.0" height="16.0" fill="#7080a0" stroke="none" stroke-width="1" />
<rect x="204.0" y="133.9" width="13.0" height="4.3" fill="#6070b8" stroke="none" stroke-width="1" />
<rect x="199.0" y="114.0" width="22.0" height="4.0" fill="#4a4a38" stroke="none" stroke-width="1" />
<path d="M213,151 L226,138 L233,134 L235,138 L226,146 L220,151 Z" stroke="none" fill="#a8b0d8" stroke-width="1" />
<line x1="198.8" y1="43.1" x2="198.8" y2="112.0" stroke="#777" stroke-width="0.7" />
<line x1="198.8" y1="43.1" x2="261.5" y2="43.1" stroke="#333" stroke-width="0.9" />
<line x1="261.5" y1="43.1" x2="261.5" y2="141.8" stroke="#222" stroke-width="1.2" />
<line x1="234.2" y1="127.0" x2="261.5" y2="141.8" stroke="#333" stroke-width="1" />
<text x="203.0" y="41.8" font-family="Liberation Sans" font-size="4.4" font-weight="normal" fill="#333" text-anchor="middle" >0.25</text>
<text x="214.5" y="41.8" font-family="Liberation Sans" font-size="4.4" font-weight="normal" fill="#333" text-anchor="middle" >0.50</text>
<text x="226.0" y="41.8" font-family="Liberation Sans" font-size="4.4" font-weight="normal" fill="#333" text-anchor="middle" >0.75</text>
<text x="237.5" y="41.8" font-family="Liberation Sans" font-size="4.4" font-weight="normal" fill="#333" text-anchor="middle" >1.00</text>
<text x="249.0" y="41.8" font-family="Liberation Sans" font-size="4.4" font-weight="normal" fill="#333" text-anchor="middle" >1.25</text>
<text x="260.5" y="41.8" font-family="Liberation Sans" font-size="4.4" font-weight="normal" fill="#333" text-anchor="middle" >1.50</text>
<text x="262.8" y="54.9" font-family="Liberation Sans" font-size="5.6" font-weight="bold" fill="#333" text-anchor="start"  textLength="7.2" lengthAdjust="spacingAndGlyphs">140</text>
<text x="262.8" y="67.4" font-family="Liberation Sans" font-size="5.6" font-weight="bold" fill="#333" text-anchor="start"  textLength="7.2" lengthAdjust="spacingAndGlyphs">120</text>
<text x="262.8" y="79.9" font-family="Liberation Sans" font-size="5.6" font-weight="bold" fill="#333" text-anchor="start"  textLength="7.2" lengthAdjust="spacingAndGlyphs">100</text>
<text x="262.8" y="92.4" font-family="Liberation Sans" font-size="5.6" font-weight="bold" fill="#333" text-anchor="start"  textLength="4.8" lengthAdjust="spacingAndGlyphs">80</text>
<text x="262.8" y="104.9" font-family="Liberation Sans" font-size="5.6" font-weight="bold" fill="#333" text-anchor="start"  textLength="4.8" lengthAdjust="spacingAndGlyphs">60</text>
<text x="262.8" y="117.4" font-family="Liberation Sans" font-size="5.6" font-weight="bold" fill="#333" text-anchor="start"  textLength="4.8" lengthAdjust="spacingAndGlyphs">40</text>
<text x="262.8" y="129.9" font-family="Liberation Sans" font-size="5.6" font-weight="bold" fill="#333" text-anchor="start"  textLength="4.8" lengthAdjust="spacingAndGlyphs">20</text>
<text x="262.8" y="142.4" font-family="Liberation Sans" font-size="5.6" font-weight="bold" fill="#333" text-anchor="start"  textLength="2.4" lengthAdjust="spacingAndGlyphs">0</text>
<g transform="translate(275.2,116) rotate(-90)"><text font-family="Liberation Sans" font-size="6.2" font-weight="bold" font-style="italic" fill="#333" textLength="53" lengthAdjust="spacingAndGlyphs">Current (µA)</text></g>
<text x="197.0" y="49.0" font-family="Liberation Sans" font-size="3.5" font-weight="normal" fill="#333" text-anchor="end" >10</text>
<text x="197.0" y="65.4" font-family="Liberation Sans" font-size="3.5" font-weight="normal" fill="#333" text-anchor="end" >10</text>
<text x="197.0" y="80.9" font-family="Liberation Sans" font-size="3.5" font-weight="normal" fill="#333" text-anchor="end" >10</text>
<g transform="translate(192.5,90) rotate(-90)"><text font-family="Liberation Sans" font-size="3" fill="#555">Transconductance (mS)</text></g>
<path d="M203.5,96.0 C204.2,93.3 205.7,85.0 208.0,80.0 C210.3,75.0 212.7,70.0 217.5,65.9 C222.3,61.8 229.8,58.7 236.8,55.4 C243.8,52.1 255.6,47.6 259.3,46.1" stroke="#c0b890" fill="none" stroke-width="1.1" />
<path d="M205.5,96.0 C206.2,93.3 207.7,84.9 210.0,80.0 C212.3,75.1 215.0,70.3 219.5,66.5 C224.0,62.7 230.2,60.2 236.8,57.0 C243.4,53.8 255.6,49.1 259.3,47.5" stroke="#9080d0" fill="none" stroke-width="1.1" />
<path d="M207.5,96.0 C208.2,93.3 209.7,84.8 212.0,80.0 C214.3,75.2 217.4,70.7 221.5,67.1 C225.6,63.5 230.5,61.6 236.8,58.6 C243.1,55.6 255.6,50.5 259.3,48.9" stroke="#b8a8f0" fill="none" stroke-width="1.1" />
<path d="M209.5,96.0 C210.2,93.3 211.7,84.7 214.0,80.0 C216.3,75.3 219.7,71.0 223.5,67.7 C227.3,64.4 230.8,63.1 236.8,60.2 C242.8,57.3 255.6,51.9 259.3,50.3" stroke="#7060c0" fill="none" stroke-width="1.1" />
<path d="M236.8,118 C242,105 250,85 261,66" stroke="#9080d0" fill="none" stroke-width="1" />
<path d="M239.8,118 C242,105 250,85 261,69" stroke="#b8a8f0" fill="none" stroke-width="1" />
<path d="M242.8,118 C242,105 250,85 261,72" stroke="#e07090" fill="none" stroke-width="1" />
<ellipse cx="210.9" cy="70.8" rx="4" ry="9" fill="none" stroke="#333" stroke-width="0.9"/>
<path d="M207,64.7 L203.5,64.7" stroke="#333" fill="none" stroke-width="0.8" />
<ellipse cx="242.8" cy="90" rx="4.5" ry="12" fill="none" stroke="#333" stroke-width="0.9"/>
<path d="M245.3,101.6 L255.6,104.2 M253.6,102.6 L255.6,104.2 L253.3,105.3" stroke="#111" fill="none" stroke-width="0.8" />
<path d="M254.1,58 L254.1,67" stroke="#2a8a40" fill="none" stroke-width="3.5" />
<path d="M250.5,59.5 L254.1,54.4 L257.7,59.5 Z" stroke="none" fill="#2a8a40" stroke-width="1" />
<path d="M254.1,67 L254.1,80" stroke="#5a30d8" fill="none" stroke-width="3.5" />
<path d="M250.5,79 L254.1,83.7 L257.7,79 Z" stroke="none" fill="#5a30d8" stroke-width="1" />
<rect x="245.5" y="59.5" width="4.0" height="3.5" fill="#a8e0e8" stroke="none" stroke-width="1" />
<text x="246.0" y="62.4" font-family="Liberation Sans" font-size="2.8" font-weight="normal" fill="#2040a0" text-anchor="start" >pH</text>
<rect x="219.5" y="78.5" width="14.7" height="6.1" fill="#e8c0c8" stroke="none" stroke-width="1" />
<rect x="219.5" y="84.6" width="14.7" height="4.3" fill="#f0e8ec" stroke="none" stroke-width="1" />
<rect x="219.5" y="88.9" width="14.7" height="4.3" fill="#c8e0c0" stroke="none" stroke-width="1" />
<path d="M222,78.5 L222,73 M220.7,72 L223.3,72" stroke="#666" fill="none" stroke-width="0.8" />
<path d="M226.5,78.5 L226.5,73 M225.2,72 L227.8,72" stroke="#666" fill="none" stroke-width="0.8" />
<path d="M231,78.5 L231,73 M229.7,72 L232.3,72" stroke="#666" fill="none" stroke-width="0.8" />
<text x="226.8" y="82.8" font-family="Liberation Sans" font-size="2.8" font-weight="normal" fill="#a03040" text-anchor="middle" >Dielectric</text>
<text x="226.8" y="92.4" font-family="Liberation Sans" font-size="2.8" font-weight="normal" fill="#333" text-anchor="middle" >MoS2</text>
<rect x="321.0" y="24.0" width="47.4" height="35.0" fill="#f09a10" stroke="none" stroke-width="1" />
<rect x="321.0" y="24.0" width="7.5" height="35.0" fill="#f0e020" stroke="none" stroke-width="1" />
<rect x="341.0" y="24.0" width="10.0" height="35.0" fill="#f0c020" stroke="none" stroke-width="1" />
<rect x="343.0" y="24.0" width="5.0" height="35.0" fill="#f4d840" stroke="none" stroke-width="1" opacity="0.8"/>
<rect x="360.0" y="24.0" width="8.4" height="35.0" fill="#e8cc18" stroke="none" stroke-width="1" />
<rect x="321.0" y="57.3" width="47.4" height="1.7" fill="#b8b020" stroke="none" stroke-width="1" opacity="0.8"/>
<rect x="321.0" y="24.0" width="47.4" height="1.0" fill="#e07010" stroke="none" stroke-width="1" opacity="0.7"/>
<path d="M328,40 C335,44 340,38 350,42" stroke="#a06010" fill="none" stroke-width="0.6" />
<path d="M330,52 C336,46 342,50 348,44" stroke="#a06010" fill="none" stroke-width="0.6" />
<text x="346.0" y="44.0" font-family="Liberation Sans" font-size="3.5" font-weight="normal" fill="#804000" text-anchor="start" >WSe2</text>
<path d="M322.0,59.0 L368.0,59.0 L352.0,87.0 L342.0,87.0" stroke="none" fill="#fce6dc" stroke-width="1" />
<defs><linearGradient id="chipf" x1="0" y1="0" x2="0" y2="1"><stop offset="0" stop-color="#6a6a6a"/><stop offset="0.35" stop-color="#2e2e2e"/><stop offset="1" stop-color="#1a1a1a"/></linearGradient></defs>
<path d="M305.0,110.0 L399.0,121.0 L399.0,133.0 L305.5,120.5" stroke="none" fill="url(#chipf)" stroke-width="1" />
<path d="M399.0,121.0 L405.0,96.0 L405.0,107.0 L399.0,133.0" stroke="none" fill="#bfbfbf" stroke-width="1" />
<path d="M323.0,87.0 L405.0,96.0 L399.0,121.0 L306.0,110.0" stroke="none" fill="#c9a53c" stroke-width="1" />
<path d="M325.0,89.0 L362.0,93.0 L357.0,116.0 L309.0,110.0" stroke="none" fill="#1e1a12" stroke-width="1" />
<path d="M362.0,93.0 L403.0,97.5 L397.5,119.0 L357.0,116.0" stroke="none" fill="#d6d6d6" stroke-width="1" />
<path d="M380.0,97.0 L397.0,99.0 L395.0,105.0 L378.0,104.0" stroke="none" fill="#1e1a12" stroke-width="1" />
<path d="M375.0,108.0 L395.0,110.0 L393.0,118.0 L373.0,117.0" stroke="none" fill="#1e1a12" stroke-width="1" />
<path d="M318,109.0 C319,100 322,94 324,96 C325,100 323,106 321,110" stroke="#b080a0" fill="none" stroke-width="1.3" />
<path d="M324,108.8 C325,100 328,94 330,96 C331,100 329,106 327,110" stroke="#b080a0" fill="none" stroke-width="1.3" />
<path d="M330,108.6 C331,100 334,94 336,96 C337,100 335,106 333,110" stroke="#b080a0" fill="none" stroke-width="1.3" />
<path d="M336,108.4 C337,100 340,94 342,96 C343,100 341,106 339,110" stroke="#b080a0" fill="none" stroke-width="1.3" />
<path d="M342,108.2 C343,100 346,94 348,96 C349,100 347,106 345,110" stroke="#b080a0" fill="none" stroke-width="1.3" />
<path d="M348,108.0 C349,100 352,94 354,96 C355,100 353,106 351,110" stroke="#b080a0" fill="none" stroke-width="1.3" />
<path d="M312,104 L350,108" stroke="#c9a53c" fill="none" stroke-width="1.2" />
<path d="M304,86 C310,84 314,76 320,76 C326,76 330,80 334,86 C336,89 339,90 342,91" stroke="#8a6a30" fill="none" stroke-width="1.6" />
<path d="M387,98 C388,92 386,84 389,79 C391,77 393,79 391,83" stroke="#b08030" fill="none" stroke-width="1.8" />
<path d="M381,104 C378,112 376,124 374,137" stroke="#c09040" fill="none" stroke-width="2" />
<text x="292.5" y="92.5" font-family="Liberation Sans" font-size="5" font-weight="normal" fill="#333" text-anchor="start" >Gate</text>
<text x="395.5" y="82.5" font-family="Liberation Sans" font-size="5" font-weight="normal" fill="#333" text-anchor="start" >Source</text>
<text x="355.0" y="140.5" font-family="Liberation Sans" font-size="5" font-weight="normal" fill="#333" text-anchor="start" >Drain</text>
<text x="294.8" y="44.6" font-family="Liberation Sans" font-size="5.8" font-weight="normal" fill="#333" text-anchor="start"  textLength="24.6" lengthAdjust="spacingAndGlyphs">Monolayer</text>
<text x="294.8" y="51.3" font-family="Liberation Sans" font-size="5.8" font-weight="normal" fill="#333" text-anchor="start" >WSe<tspan font-size="4" dy="1.2">2</tspan></text>
<line x1="312.3" y1="53.8" x2="321.5" y2="53.8" stroke="#a07070" stroke-width="0.6" />
<text x="369.5" y="30.5" font-family="Liberation Sans" font-size="5" font-weight="normal" fill="#222" text-anchor="start" >SARS-CoV-2 Antibody</text>
<text x="405.5" y="43.5" font-family="Liberation Sans" font-size="5" font-weight="normal" fill="#222" text-anchor="start" >MUA</text>
<text x="473.5" y="37.5" font-family="Liberation Sans" font-size="5" font-weight="normal" fill="#222" text-anchor="start" >SARS-CoV-2</text>
<text x="473.5" y="45.0" font-family="Liberation Sans" font-size="5" font-weight="normal" fill="#222" text-anchor="start" >Spike Protein</text>
<path d="M386.3,48.5 L394.4,48.5 L394.4,45.3 L402.0,53.0 L394.4,61.0 L394.4,55.6 L386.3,55.6" stroke="none" fill="#f0a088" stroke-width="1" />
<path d="M476.0,61.0 L484.0,61.0 L484.0,67.0 L487.0,67.0 L480.0,75.0 L473.0,67.0 L476.0,67.0" stroke="none" fill="#eea080" stroke-width="1" />
<path d="M419.6,47.0 L472.0,47.0 L447.5,70.5" stroke="none" fill="#6a6a58" stroke-width="1" />
<circle cx="420.5" cy="48.2" r="1.55" fill="#505050"/>
<circle cx="420.0" cy="47.7" r="0.6" fill="#9a9a9a"/>
<circle cx="423.9" cy="48.2" r="1.55" fill="#505050"/>
<circle cx="423.4" cy="47.7" r="0.6" fill="#9a9a9a"/>
<circle cx="427.2" cy="48.2" r="1.55" fill="#505050"/>
<circle cx="426.7" cy="47.7" r="0.6" fill="#9a9a9a"/>
<circle cx="430.6" cy="48.2" r="1.55" fill="#505050"/>
<circle cx="430.1" cy="47.7" r="0.6" fill="#9a9a9a"/>
<circle cx="434.0" cy="48.2" r="1.55" fill="#505050"/>
<circle cx="433.5" cy="47.7" r="0.6" fill="#9a9a9a"/>
<circle cx="437.3" cy="48.2" r="1.55" fill="#505050"/>
<circle cx="436.8" cy="47.7" r="0.6" fill="#9a9a9a"/>
<circle cx="440.7" cy="48.2" r="1.55" fill="#505050"/>
<circle cx="440.2" cy="47.7" r="0.6" fill="#9a9a9a"/>
<circle cx="444.1" cy="48.2" r="1.55" fill="#505050"/>
<circle cx="443.6" cy="47.7" r="0.6" fill="#9a9a9a"/>
<circle cx="447.4" cy="48.2" r="1.55" fill="#505050"/>
<circle cx="446.9" cy="47.7" r="0.6" fill="#9a9a9a"/>
<circle cx="450.8" cy="48.2" r="1.55" fill="#505050"/>
<circle cx="450.3" cy="47.7" r="0.6" fill="#9a9a9a"/>
<circle cx="454.2" cy="48.2" r="1.55" fill="#505050"/>
<circle cx="453.7" cy="47.7" r="0.6" fill="#9a9a9a"/>
<circle cx="457.5" cy="48.2" r="1.55" fill="#505050"/>
<circle cx="457.0" cy="47.7" r="0.6" fill="#9a9a9a"/>
<circle cx="460.9" cy="48.2" r="1.55" fill="#505050"/>
<circle cx="460.4" cy="47.7" r="0.6" fill="#9a9a9a"/>
<circle cx="464.3" cy="48.2" r="1.55" fill="#505050"/>
<circle cx="463.8" cy="47.7" r="0.6" fill="#9a9a9a"/>
<circle cx="467.6" cy="48.2" r="1.55" fill="#505050"/>
<circle cx="467.1" cy="47.7" r="0.6" fill="#9a9a9a"/>
<circle cx="471.0" cy="48.2" r="1.55" fill="#505050"/>
<circle cx="470.5" cy="47.7" r="0.6" fill="#9a9a9a"/>
<circle cx="423.9" cy="51.2" r="1.55" fill="#505050"/>
<circle cx="423.4" cy="50.7" r="0.6" fill="#9a9a9a"/>
<circle cx="427.3" cy="51.2" r="1.55" fill="#505050"/>
<circle cx="426.8" cy="50.7" r="0.6" fill="#9a9a9a"/>
<circle cx="430.7" cy="51.2" r="1.55" fill="#505050"/>
<circle cx="430.2" cy="50.7" r="0.6" fill="#9a9a9a"/>
<circle cx="434.1" cy="51.2" r="1.55" fill="#505050"/>
<circle cx="433.6" cy="50.7" r="0.6" fill="#9a9a9a"/>
<circle cx="437.5" cy="51.2" r="1.55" fill="#505050"/>
<circle cx="437.0" cy="50.7" r="0.6" fill="#9a9a9a"/>
<circle cx="440.9" cy="51.2" r="1.55" fill="#505050"/>
<circle cx="440.4" cy="50.7" r="0.6" fill="#9a9a9a"/>
<circle cx="444.3" cy="51.2" r="1.55" fill="#505050"/>
<circle cx="443.8" cy="50.7" r="0.6" fill="#9a9a9a"/>
<circle cx="447.6" cy="51.2" r="1.55" fill="#505050"/>
<circle cx="447.1" cy="50.7" r="0.6" fill="#9a9a9a"/>
<circle cx="451.0" cy="51.2" r="1.55" fill="#505050"/>
<circle cx="450.5" cy="50.7" r="0.6" fill="#9a9a9a"/>
<circle cx="454.4" cy="51.2" r="1.55" fill="#505050"/>
<circle cx="453.9" cy="50.7" r="0.6" fill="#9a9a9a"/>
<circle cx="457.8" cy="51.2" r="1.55" fill="#505050"/>
<circle cx="457.3" cy="50.7" r="0.6" fill="#9a9a9a"/>
<circle cx="461.2" cy="51.2" r="1.55" fill="#505050"/>
<circle cx="460.7" cy="50.7" r="0.6" fill="#9a9a9a"/>
<circle cx="464.6" cy="51.2" r="1.55" fill="#505050"/>
<circle cx="464.1" cy="50.7" r="0.6" fill="#9a9a9a"/>
<circle cx="467.9" cy="51.2" r="1.55" fill="#505050"/>
<circle cx="467.4" cy="50.7" r="0.6" fill="#9a9a9a"/>
<circle cx="427.4" cy="54.2" r="1.55" fill="#505050"/>
<circle cx="426.9" cy="53.7" r="0.6" fill="#9a9a9a"/>
<circle cx="430.8" cy="54.2" r="1.55" fill="#505050"/>
<circle cx="430.3" cy="53.7" r="0.6" fill="#9a9a9a"/>
<circle cx="434.2" cy="54.2" r="1.55" fill="#505050"/>
<circle cx="433.7" cy="53.7" r="0.6" fill="#9a9a9a"/>
<circle cx="437.6" cy="54.2" r="1.55" fill="#505050"/>
<circle cx="437.1" cy="53.7" r="0.6" fill="#9a9a9a"/>
<circle cx="441.0" cy="54.2" r="1.55" fill="#505050"/>
<circle cx="440.5" cy="53.7" r="0.6" fill="#9a9a9a"/>
<circle cx="444.4" cy="54.2" r="1.55" fill="#505050"/>
<circle cx="443.9" cy="53.7" r="0.6" fill="#9a9a9a"/>
<circle cx="447.9" cy="54.2" r="1.55" fill="#505050"/>
<circle cx="447.4" cy="53.7" r="0.6" fill="#9a9a9a"/>
<circle cx="451.3" cy="54.2" r="1.55" fill="#505050"/>
<circle cx="450.8" cy="53.7" r="0.6" fill="#9a9a9a"/>
<circle cx="454.7" cy="54.2" r="1.55" fill="#505050"/>
<circle cx="454.2" cy="53.7" r="0.6" fill="#9a9a9a"/>
<circle cx="458.1" cy="54.2" r="1.55" fill="#505050"/>
<circle cx="457.6" cy="53.7" r="0.6" fill="#9a9a9a"/>
<circle cx="461.5" cy="54.2" r="1.55" fill="#505050"/>
<circle cx="461.0" cy="53.7" r="0.6" fill="#9a9a9a"/>
<circle cx="464.9" cy="54.2" r="1.55" fill="#505050"/>
<circle cx="464.4" cy="53.7" r="0.6" fill="#9a9a9a"/>
<circle cx="430.9" cy="57.2" r="1.55" fill="#505050"/>
<circle cx="430.4" cy="56.7" r="0.6" fill="#9a9a9a"/>
<circle cx="434.3" cy="57.2" r="1.55" fill="#505050"/>
<circle cx="433.8" cy="56.7" r="0.6" fill="#9a9a9a"/>
<circle cx="437.7" cy="57.2" r="1.55" fill="#505050"/>
<circle cx="437.2" cy="56.7" r="0.6" fill="#9a9a9a"/>
<circle cx="441.2" cy="57.2" r="1.55" fill="#505050"/>
<circle cx="440.7" cy="56.7" r="0.6" fill="#9a9a9a"/>
<circle cx="444.6" cy="57.2" r="1.55" fill="#505050"/>
<circle cx="444.1" cy="56.7" r="0.6" fill="#9a9a9a"/>
<circle cx="448.1" cy="57.2" r="1.55" fill="#505050"/>
<circle cx="447.6" cy="56.7" r="0.6" fill="#9a9a9a"/>
<circle cx="451.5" cy="57.2" r="1.55" fill="#505050"/>
<circle cx="451.0" cy="56.7" r="0.6" fill="#9a9a9a"/>
<circle cx="455.0" cy="57.2" r="1.55" fill="#505050"/>
<circle cx="454.5" cy="56.7" r="0.6" fill="#9a9a9a"/>
<circle cx="458.4" cy="57.2" r="1.55" fill="#505050"/>
<circle cx="457.9" cy="56.7" r="0.6" fill="#9a9a9a"/>
<circle cx="461.9" cy="57.2" r="1.55" fill="#505050"/>
<circle cx="461.4" cy="56.7" r="0.6" fill="#9a9a9a"/>
<circle cx="434.3" cy="60.2" r="1.55" fill="#505050"/>
<circle cx="433.8" cy="59.7" r="0.6" fill="#9a9a9a"/>
<circle cx="437.8" cy="60.2" r="1.55" fill="#505050"/>
<circle cx="437.3" cy="59.7" r="0.6" fill="#9a9a9a"/>
<circle cx="441.3" cy="60.2" r="1.55" fill="#505050"/>
<circle cx="440.8" cy="59.7" r="0.6" fill="#9a9a9a"/>
<circle cx="444.8" cy="60.2" r="1.55" fill="#505050"/>
<circle cx="444.3" cy="59.7" r="0.6" fill="#9a9a9a"/>
<circle cx="448.3" cy="60.2" r="1.55" fill="#505050"/>
<circle cx="447.8" cy="59.7" r="0.6" fill="#9a9a9a"/>
<circle cx="451.8" cy="60.2" r="1.55" fill="#505050"/>
<circle cx="451.3" cy="59.7" r="0.6" fill="#9a9a9a"/>
<circle cx="455.3" cy="60.2" r="1.55" fill="#505050"/>
<circle cx="454.8" cy="59.7" r="0.6" fill="#9a9a9a"/>
<circle cx="458.8" cy="60.2" r="1.55" fill="#505050"/>
<circle cx="458.3" cy="59.7" r="0.6" fill="#9a9a9a"/>
<circle cx="437.8" cy="63.2" r="1.55" fill="#505050"/>
<circle cx="437.2" cy="62.7" r="0.6" fill="#9a9a9a"/>
<circle cx="441.4" cy="63.2" r="1.55" fill="#505050"/>
<circle cx="440.9" cy="62.7" r="0.6" fill="#9a9a9a"/>
<circle cx="444.9" cy="63.2" r="1.55" fill="#505050"/>
<circle cx="444.4" cy="62.7" r="0.6" fill="#9a9a9a"/>
<circle cx="448.6" cy="63.2" r="1.55" fill="#505050"/>
<circle cx="448.1" cy="62.7" r="0.6" fill="#9a9a9a"/>
<circle cx="452.1" cy="63.2" r="1.55" fill="#505050"/>
<circle cx="451.6" cy="62.7" r="0.6" fill="#9a9a9a"/>
<circle cx="455.8" cy="63.2" r="1.55" fill="#505050"/>
<circle cx="455.2" cy="62.7" r="0.6" fill="#9a9a9a"/>
<circle cx="441.2" cy="66.2" r="1.55" fill="#505050"/>
<circle cx="440.7" cy="65.7" r="0.6" fill="#9a9a9a"/>
<circle cx="445.0" cy="66.2" r="1.55" fill="#505050"/>
<circle cx="444.5" cy="65.7" r="0.6" fill="#9a9a9a"/>
<circle cx="448.9" cy="66.2" r="1.55" fill="#505050"/>
<circle cx="448.4" cy="65.7" r="0.6" fill="#9a9a9a"/>
<circle cx="452.7" cy="66.2" r="1.55" fill="#505050"/>
<circle cx="452.2" cy="65.7" r="0.6" fill="#9a9a9a"/>
<circle cx="444.6" cy="69.2" r="1.55" fill="#505050"/>
<circle cx="444.1" cy="68.7" r="0.6" fill="#9a9a9a"/>
<circle cx="447.1" cy="69.2" r="1.55" fill="#505050"/>
<circle cx="446.6" cy="68.7" r="0.6" fill="#9a9a9a"/>
<circle cx="449.6" cy="69.2" r="1.55" fill="#505050"/>
<circle cx="449.1" cy="68.7" r="0.6" fill="#9a9a9a"/>
<circle cx="419.6" cy="49.6" r="0.6" fill="#d8e040"/>
<circle cx="472.0" cy="49.6" r="0.6" fill="#d8e040"/>
<circle cx="423.1" cy="52.6" r="0.6" fill="#d8e040"/>
<circle cx="468.9" cy="52.6" r="0.6" fill="#d8e040"/>
<circle cx="426.5" cy="55.6" r="0.6" fill="#d8e040"/>
<circle cx="465.9" cy="55.6" r="0.6" fill="#d8e040"/>
<circle cx="430.0" cy="58.6" r="0.6" fill="#d8e040"/>
<circle cx="462.9" cy="58.6" r="0.6" fill="#d8e040"/>
<circle cx="433.4" cy="61.6" r="0.6" fill="#d8e040"/>
<circle cx="459.8" cy="61.6" r="0.6" fill="#d8e040"/>
<circle cx="436.9" cy="64.6" r="0.6" fill="#d8e040"/>
<circle cx="456.8" cy="64.6" r="0.6" fill="#d8e040"/>
<circle cx="440.3" cy="67.6" r="0.6" fill="#d8e040"/>
<circle cx="453.7" cy="67.6" r="0.6" fill="#d8e040"/>
<circle cx="443.8" cy="70.6" r="0.6" fill="#d8e040"/>
<circle cx="450.6" cy="70.6" r="0.6" fill="#d8e040"/>
<path d="M432,32 L432,38 M432,38 L430,42 M432,38 L434,42 M431,44 L431,46 M433,44 L433,46" stroke="#888" fill="none" stroke-width="0.5" />
<circle cx="432" cy="29" r="3.3" fill="#34443c"/>
<circle cx="431" cy="28" r="1.1" fill="#7a8a80"/>
<path d="M440.5,31.5 L440.5,37.5 M440.5,37.5 L438.5,41.5 M440.5,37.5 L442.5,41.5 M439.5,43.5 L439.5,46 M441.5,43.5 L441.5,46" stroke="#888" fill="none" stroke-width="0.5" />
<circle cx="440.5" cy="28.5" r="3.3" fill="#34443c"/>
<circle cx="439.5" cy="27.5" r="1.1" fill="#7a8a80"/>
<path d="M447,33 L447,39 M447,39 L445,43 M447,39 L449,43 M446,45 L446,46 M448,45 L448,46" stroke="#888" fill="none" stroke-width="0.5" />
<circle cx="447" cy="30" r="3.3" fill="#34443c"/>
<circle cx="446" cy="29" r="1.1" fill="#7a8a80"/>
<path d="M458,31.5 L458,37.5 M458,37.5 L456,41.5 M458,37.5 L460,41.5 M457,43.5 L457,46 M459,43.5 L459,46" stroke="#888" fill="none" stroke-width="0.5" />
<circle cx="458" cy="28.5" r="3.3" fill="#34443c"/>
<circle cx="457" cy="27.5" r="1.1" fill="#7a8a80"/>
<path d="M466,30.5 L466,36.5 M466,36.5 L464,40.5 M466,36.5 L468,40.5 M465,42.5 L465,46 M467,42.5 L467,46" stroke="#888" fill="none" stroke-width="0.5" />
<circle cx="466" cy="27.5" r="3.3" fill="#34443c"/>
<circle cx="465" cy="26.5" r="1.1" fill="#7a8a80"/>
<path d="M421,31 C425,33 428,33 430,30" stroke="#4060c0" fill="none" stroke-width="0.5" />
<path d="M470,26 C476,25 480,28 481,33" stroke="#4060c0" fill="none" stroke-width="0.5" />
<rect x="442.5" y="78.4" width="71.0" height="56.8" fill="#fff" stroke="#777" stroke-width="0.8" />
<path d="M443,134.5 L459.4,134.5 L459.6,97.8 L461,104 C462,107 464,108 466,110 C468,112 470,111 472,114 C474,115 476,114 478,117 C479,118 480,116 480.5,117 L480.7,95.5 L482,104 C484,107 487,106 490,108 C492,109 494,107 496,109 C497,110 498,107 499,109 L499.2,84.8 L500.5,92 C502,95 504,96 506,98 C508,99 510,98 513,100" stroke="#e88070" fill="none" stroke-width="0.8" />
<text x="444.8" y="85.5" font-family="Liberation Sans" font-size="5.3" font-weight="normal" fill="#222" text-anchor="start" >Add Various Spike</text>
<text x="444.8" y="92.5" font-family="Liberation Sans" font-size="5.3" font-weight="normal" fill="#222" text-anchor="start" >concentration.</text>
<text x="468.5" y="142.0" font-family="Liberation Sans" font-size="5" font-weight="normal" fill="#222" text-anchor="start" >Time (s)</text>
<text x="419.0" y="129.5" font-family="Liberation Sans" font-size="5.2" font-weight="normal" fill="#222" text-anchor="start"  textLength="19.5" lengthAdjust="spacingAndGlyphs">No Spike</text>
<g transform="translate(439,110) rotate(-90)"><text font-family="Liberation Sans" font-size="4.5" fill="#222">ΔI/I<tspan font-size="3" dy="1">0</tspan></text></g>
<circle cx="446" cy="132" r="0.9" fill="#3040c0"/>
<circle cx="463" cy="96" r="0.9" fill="#3040c0"/>
<circle cx="480" cy="96" r="0.9" fill="#3040c0"/>
<circle cx="498" cy="83" r="0.9" fill="#3040c0"/></svg>
</body></html>
